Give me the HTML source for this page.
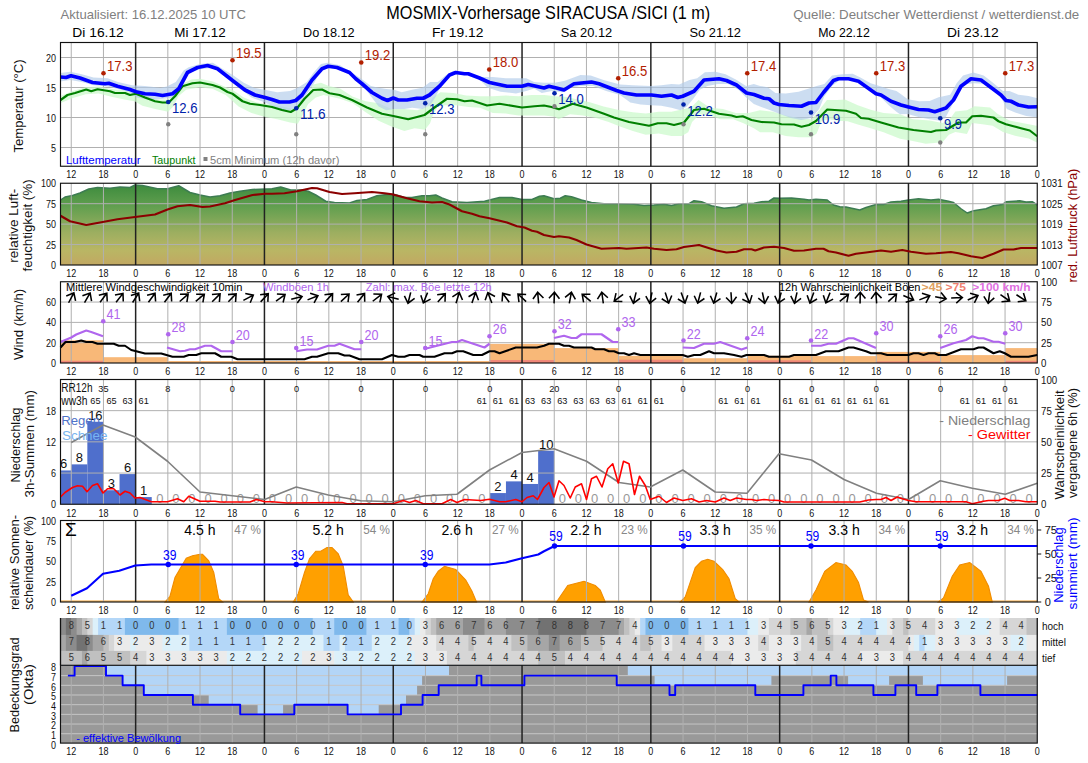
<!DOCTYPE html>
<html><head><meta charset="utf-8"><style>
html,body{margin:0;padding:0;background:#fff;width:1088px;height:763px;overflow:hidden}
svg{display:block;font-family:"Liberation Sans", sans-serif}
</style></head><body>
<svg width="1088" height="763" viewBox="0 0 1088 763">
<rect width="1088" height="763" fill="#fff"/>
<text x="60.50" y="19.25" font-size="13.2" fill="#808080" text-anchor="start" textLength="185.5" lengthAdjust="spacingAndGlyphs" >Aktualisiert: 16.12.2025 10 UTC</text>
<text x="386.25" y="19.25" font-size="17.5" fill="#000" text-anchor="start" textLength="324" lengthAdjust="spacingAndGlyphs" >MOSMIX-Vorhersage SIRACUSA /SICI (1 m)</text>
<text x="793.25" y="19.25" font-size="13.2" fill="#808080" text-anchor="start" textLength="286" lengthAdjust="spacingAndGlyphs" >Quelle: Deutscher Wetterdienst / wetterdienst.de</text>
<text x="98.07" y="37.40" font-size="12.8" fill="#000" text-anchor="middle" textLength="51.5" lengthAdjust="spacingAndGlyphs" >Di 16.12</text>
<text x="200.04" y="37.40" font-size="12.8" fill="#000" text-anchor="middle" textLength="51.5" lengthAdjust="spacingAndGlyphs" >Mi 17.12</text>
<text x="328.84" y="37.40" font-size="12.8" fill="#000" text-anchor="middle" textLength="51.5" lengthAdjust="spacingAndGlyphs" >Do 18.12</text>
<text x="457.65" y="37.40" font-size="12.8" fill="#000" text-anchor="middle" textLength="51.5" lengthAdjust="spacingAndGlyphs" >Fr 19.12</text>
<text x="586.45" y="37.40" font-size="12.8" fill="#000" text-anchor="middle" textLength="51.5" lengthAdjust="spacingAndGlyphs" >Sa 20.12</text>
<text x="715.25" y="37.40" font-size="12.8" fill="#000" text-anchor="middle" textLength="51.5" lengthAdjust="spacingAndGlyphs" >So 21.12</text>
<text x="844.06" y="37.40" font-size="12.8" fill="#000" text-anchor="middle" textLength="51.5" lengthAdjust="spacingAndGlyphs" >Mo 22.12</text>
<text x="972.86" y="37.40" font-size="12.8" fill="#000" text-anchor="middle" textLength="51.5" lengthAdjust="spacingAndGlyphs" >Di 23.12</text>
<line x1="60.50" y1="57.50" x2="1037.25" y2="57.50" stroke="#b0b0b0" stroke-width="1" />
<line x1="60.50" y1="87.50" x2="1037.25" y2="87.50" stroke="#b0b0b0" stroke-width="1" />
<line x1="60.50" y1="117.50" x2="1037.25" y2="117.50" stroke="#b0b0b0" stroke-width="1" />
<line x1="60.50" y1="147.50" x2="1037.25" y2="147.50" stroke="#b0b0b0" stroke-width="1" />
<line x1="71.24" y1="42.50" x2="71.24" y2="166.25" stroke="#b0b0b0" stroke-width="1" />
<line x1="103.44" y1="42.50" x2="103.44" y2="166.25" stroke="#b0b0b0" stroke-width="1" />
<line x1="167.84" y1="42.50" x2="167.84" y2="166.25" stroke="#b0b0b0" stroke-width="1" />
<line x1="200.04" y1="42.50" x2="200.04" y2="166.25" stroke="#b0b0b0" stroke-width="1" />
<line x1="232.24" y1="42.50" x2="232.24" y2="166.25" stroke="#b0b0b0" stroke-width="1" />
<line x1="296.64" y1="42.50" x2="296.64" y2="166.25" stroke="#b0b0b0" stroke-width="1" />
<line x1="328.84" y1="42.50" x2="328.84" y2="166.25" stroke="#b0b0b0" stroke-width="1" />
<line x1="361.05" y1="42.50" x2="361.05" y2="166.25" stroke="#b0b0b0" stroke-width="1" />
<line x1="425.45" y1="42.50" x2="425.45" y2="166.25" stroke="#b0b0b0" stroke-width="1" />
<line x1="457.65" y1="42.50" x2="457.65" y2="166.25" stroke="#b0b0b0" stroke-width="1" />
<line x1="489.85" y1="42.50" x2="489.85" y2="166.25" stroke="#b0b0b0" stroke-width="1" />
<line x1="554.25" y1="42.50" x2="554.25" y2="166.25" stroke="#b0b0b0" stroke-width="1" />
<line x1="586.45" y1="42.50" x2="586.45" y2="166.25" stroke="#b0b0b0" stroke-width="1" />
<line x1="618.65" y1="42.50" x2="618.65" y2="166.25" stroke="#b0b0b0" stroke-width="1" />
<line x1="683.05" y1="42.50" x2="683.05" y2="166.25" stroke="#b0b0b0" stroke-width="1" />
<line x1="715.25" y1="42.50" x2="715.25" y2="166.25" stroke="#b0b0b0" stroke-width="1" />
<line x1="747.46" y1="42.50" x2="747.46" y2="166.25" stroke="#b0b0b0" stroke-width="1" />
<line x1="811.86" y1="42.50" x2="811.86" y2="166.25" stroke="#b0b0b0" stroke-width="1" />
<line x1="844.06" y1="42.50" x2="844.06" y2="166.25" stroke="#b0b0b0" stroke-width="1" />
<line x1="876.26" y1="42.50" x2="876.26" y2="166.25" stroke="#b0b0b0" stroke-width="1" />
<line x1="940.66" y1="42.50" x2="940.66" y2="166.25" stroke="#b0b0b0" stroke-width="1" />
<line x1="972.86" y1="42.50" x2="972.86" y2="166.25" stroke="#b0b0b0" stroke-width="1" />
<line x1="1005.06" y1="42.50" x2="1005.06" y2="166.25" stroke="#b0b0b0" stroke-width="1" />
<line x1="135.64" y1="42.50" x2="135.64" y2="166.25" stroke="#222" stroke-width="1.5" />
<line x1="264.44" y1="42.50" x2="264.44" y2="166.25" stroke="#222" stroke-width="1.5" />
<line x1="393.25" y1="42.50" x2="393.25" y2="166.25" stroke="#222" stroke-width="1.5" />
<line x1="522.05" y1="42.50" x2="522.05" y2="166.25" stroke="#222" stroke-width="1.5" />
<line x1="650.85" y1="42.50" x2="650.85" y2="166.25" stroke="#222" stroke-width="1.5" />
<line x1="779.66" y1="42.50" x2="779.66" y2="166.25" stroke="#222" stroke-width="1.5" />
<line x1="908.46" y1="42.50" x2="908.46" y2="166.25" stroke="#222" stroke-width="1.5" />
<clipPath id="c1"><rect x="60.5" y="42.5" width="976.75" height="123.75"/></clipPath>
<g clip-path="url(#c1)">
<polygon points="60.00,96.18 72.87,91.04 85.74,87.18 98.61,86.53 111.48,89.11 124.35,90.39 134.65,92.32 147.52,96.18 157.81,99.40 168.11,99.40 175.83,93.61 183.55,83.31 191.27,79.45 200.03,78.81 212.87,81.38 223.17,85.89 233.46,90.39 243.76,97.47 256.63,102.62 269.50,104.55 282.37,106.48 292.66,109.05 300.39,106.48 306.82,96.18 313.26,84.60 320.98,82.67 328.70,85.89 340.03,88.46 352.87,96.83 365.74,101.33 378.61,103.26 391.48,109.05 404.35,109.05 417.22,110.34 427.52,106.48 432.66,97.47 440.39,92.32 453.26,92.97 466.13,95.54 480.03,96.18 492.87,96.18 505.74,95.54 518.61,96.18 531.48,94.90 544.35,94.90 554.65,96.18 564.94,96.83 577.81,99.40 590.68,102.62 603.55,106.48 620.03,110.34 632.87,112.27 645.74,113.56 658.61,111.63 671.48,111.63 684.35,109.05 692.07,106.48 698.51,100.05 710.09,107.77 722.96,109.05 735.83,112.92 748.70,112.92 760.03,110.34 772.87,111.63 785.74,115.49 798.61,118.06 811.48,119.35 819.20,110.34 826.92,100.05 837.22,100.05 844.94,99.40 857.81,105.19 870.68,109.70 883.55,112.92 900.03,114.20 912.87,119.20 929.60,120.49 942.47,123.06 948.91,120.49 955.34,111.48 966.92,110.19 974.65,106.33 990.09,107.62 997.81,114.05 1009.40,120.49 1022.27,123.06 1036.42,125.64 1040.28,125.89 1040.28,143.01 1036.42,142.37 1028.70,138.51 1015.83,135.93 1002.96,132.07 992.66,125.64 982.37,124.35 972.07,123.06 966.92,134.00 955.34,132.07 948.91,134.65 942.47,142.37 925.74,143.66 912.87,141.08 900.03,138.66 883.55,132.22 870.68,128.36 857.81,124.50 847.52,121.28 837.22,120.64 829.50,119.35 821.78,120.64 816.63,133.51 811.48,137.37 798.61,137.37 785.74,136.08 772.87,132.22 760.03,132.22 753.85,128.36 743.55,123.21 733.26,119.35 720.39,119.35 710.09,115.49 699.79,114.20 692.07,121.92 688.21,132.22 681.78,136.08 671.48,136.08 658.61,133.51 645.74,134.79 632.87,130.93 620.03,126.43 608.70,121.92 595.83,118.06 582.96,115.49 570.09,114.20 558.51,119.35 554.65,116.78 544.35,115.49 531.48,115.49 518.61,115.49 505.74,113.56 492.87,112.92 480.03,107.77 468.70,107.12 455.83,105.19 445.53,105.19 437.81,106.48 432.66,115.49 430.09,123.21 424.94,129.65 414.65,128.36 404.35,130.93 391.48,126.43 378.61,120.64 365.74,112.27 352.87,103.26 340.03,98.76 323.55,94.90 315.83,97.47 308.11,103.91 301.67,116.78 297.81,123.85 290.09,122.57 277.22,119.35 264.35,116.78 251.48,112.92 238.61,106.48 225.74,94.90 212.87,89.11 200.03,87.18 186.13,89.75 178.40,96.18 173.26,106.48 168.11,111.63 155.24,109.05 142.37,105.84 134.65,101.33 124.35,99.40 111.48,96.83 98.61,93.61 85.74,94.25 72.87,98.11 60.00,103.26" fill="#ccf9cc" stroke="none" stroke-width="0" fill-opacity="0.75"/>
<polygon points="60.00,73.02 70.30,71.73 81.88,74.31 93.46,77.52 107.62,78.17 117.92,82.03 132.07,85.24 144.94,85.89 160.39,87.82 166.82,86.53 175.83,82.03 183.55,70.44 188.70,67.23 200.03,64.01 212.87,62.72 223.17,69.16 233.46,75.59 243.76,82.67 254.05,87.82 264.35,89.75 277.22,92.32 290.09,91.04 297.81,87.82 306.82,82.03 313.26,73.02 320.98,64.01 327.41,62.72 340.03,65.30 350.30,71.73 360.59,78.17 370.89,85.89 378.61,87.82 386.33,89.11 394.05,89.75 401.78,92.32 412.07,89.75 422.37,87.82 430.09,82.03 437.81,82.03 445.53,75.59 453.26,71.09 466.13,72.37 480.03,76.88 492.87,76.88 505.74,78.17 518.61,78.17 526.33,78.17 534.05,82.03 544.35,82.67 554.65,82.67 564.94,80.74 580.39,74.95 590.68,75.59 603.55,80.10 620.03,84.60 632.87,85.24 650.89,85.89 661.18,85.24 671.48,83.96 679.20,84.60 689.50,80.10 697.22,78.17 704.94,72.37 715.24,71.73 725.53,74.31 735.83,79.45 746.13,85.89 753.85,83.96 760.03,85.89 767.72,87.18 775.44,92.97 785.74,93.61 798.61,91.68 808.91,88.46 816.63,85.89 824.35,83.96 832.07,75.59 842.37,74.31 852.66,73.66 860.39,77.52 870.68,83.31 880.98,86.53 888.70,89.11 896.42,91.04 900.03,93.61 907.72,99.25 919.31,101.18 929.60,100.93 938.61,97.32 950.19,94.75 956.63,83.17 963.06,75.44 973.36,72.61 983.66,75.44 992.66,82.52 1002.96,90.89 1009.40,90.89 1018.40,94.75 1028.70,96.04 1036.42,97.97 1040.28,98.35 1040.28,117.53 1036.42,117.27 1026.13,115.98 1015.83,112.77 1006.82,108.91 1001.67,98.61 992.66,89.60 983.66,83.81 973.36,83.17 964.35,84.45 957.92,92.18 951.48,106.33 945.05,118.56 938.61,120.49 929.60,119.20 919.31,117.27 907.72,114.05 900.03,114.20 896.42,111.63 888.70,105.19 880.98,97.47 873.26,90.39 865.53,84.60 857.81,80.10 850.09,78.81 839.79,80.10 832.07,85.89 824.35,96.18 819.20,109.05 811.48,118.06 801.18,119.99 790.89,118.06 780.59,114.20 770.30,110.34 760.03,106.48 753.85,103.91 746.13,97.47 738.40,89.75 728.11,83.96 717.81,83.96 707.52,85.89 699.79,89.75 693.36,98.76 686.92,106.48 680.49,110.34 671.48,107.77 661.18,105.84 650.89,105.19 640.59,104.55 630.30,102.62 620.03,94.90 606.13,91.04 593.26,85.89 580.39,85.89 570.09,87.82 562.37,92.32 552.07,91.04 541.78,92.97 534.05,88.46 526.33,91.04 516.04,93.61 500.59,91.68 487.72,87.82 480.03,80.10 468.70,74.95 455.83,74.31 448.11,77.52 440.39,87.18 435.24,97.47 430.09,105.19 422.37,109.05 412.07,107.77 404.35,109.05 394.05,109.05 386.33,110.34 378.61,106.48 370.89,96.18 360.59,82.67 350.30,74.95 340.03,69.16 327.41,67.87 320.98,70.44 313.26,84.60 305.53,96.18 297.81,106.48 290.09,110.34 279.79,110.34 272.07,105.84 261.78,101.33 251.48,97.47 241.18,89.75 230.89,80.74 220.59,71.73 212.87,67.87 200.03,69.16 188.70,73.02 183.55,80.10 178.40,89.75 173.26,97.47 162.96,98.76 150.09,100.05 137.22,97.47 129.50,92.32 117.92,89.11 107.62,86.53 93.46,85.24 81.88,82.03 70.30,80.10 60.00,81.38" fill="#b0cbe9" stroke="none" stroke-width="0" fill-opacity="0.65"/>
<polyline points="60.50,100.00 67.50,95.00 75.00,93.00 86.25,89.50 91.25,91.25 97.50,89.25 110.00,91.25 115.00,93.00 125.00,93.00 130.00,95.00 136.00,93.75 145.00,97.50 155.00,101.25 162.50,102.50 168.75,102.50 175.00,96.25 182.50,86.25 192.50,83.25 200.00,82.50 212.50,85.00 220.00,87.50 227.50,92.00 232.50,93.75 242.50,101.25 250.00,103.75 260.00,105.00 272.00,107.00 282.00,110.00 290.75,112.00 297.00,108.25 304.50,98.75 313.25,90.00 322.00,89.50 329.50,93.25 339.50,95.00 352.00,100.00 367.00,107.50 382.00,113.75 394.50,116.25 408.25,119.25 417.00,117.00 424.50,115.00 434.50,107.50 447.00,98.75 457.00,99.25 464.50,101.25 472.00,100.50 487.00,105.50 499.50,103.75 522.00,107.50 534.50,106.25 544.00,105.50 551.50,107.00 559.00,109.25 572.75,103.75 586.50,107.50 604.00,113.75 614.00,117.50 629.00,122.00 649.00,125.75 657.75,123.25 666.50,123.25 674.00,125.00 684.00,122.50 694.00,110.00 704.00,108.75 719.00,113.75 731.50,115.50 736.50,117.00 742.75,116.25 751.50,120.00 761.50,122.00 774.00,122.50 781.50,124.25 794.00,124.50 801.50,126.75 809.00,125.00 816.00,121.00 827.25,109.50 846.00,110.75 856.00,113.75 861.00,118.00 868.50,118.75 881.00,122.50 898.50,127.50 913.50,130.00 931.00,132.00 936.00,130.50 946.00,130.00 958.50,122.50 966.00,122.50 972.25,116.25 981.00,115.75 993.50,117.50 998.50,121.25 1006.00,124.25 1013.50,126.25 1021.00,128.25 1029.75,130.50 1037.25,136.25" fill="none" stroke="#008000" stroke-width="2.2" stroke-linejoin="round" stroke-linecap="butt" />
<polyline points="60.50,77.00 66.00,77.50 71.00,75.75 80.00,78.00 92.50,82.50 105.00,83.75 108.75,83.25 117.50,86.25 130.00,89.50 136.00,91.75 145.00,93.75 155.00,94.25 162.50,95.50 172.50,93.75 178.75,88.75 187.50,72.50 197.50,67.50 207.50,65.50 217.50,68.75 232.50,80.50 245.00,90.00 255.00,95.00 265.00,97.50 272.00,99.50 279.50,102.00 289.50,102.00 295.75,100.50 302.00,95.00 312.00,80.00 322.00,68.75 328.25,66.25 337.00,67.50 349.50,72.50 355.75,78.75 362.00,83.75 372.00,92.50 382.00,98.25 387.50,100.50 393.25,98.00 398.25,100.00 407.00,100.00 417.00,98.25 423.25,98.25 429.50,95.00 439.50,86.25 449.50,75.00 455.75,72.50 464.50,73.75 468.25,73.75 479.50,78.00 489.50,82.50 507.00,86.25 522.00,86.25 528.25,84.50 544.00,88.00 549.00,86.25 556.50,88.00 564.00,90.00 574.00,83.75 591.50,82.00 599.00,83.75 616.50,90.50 624.00,93.00 636.50,95.00 651.50,95.00 661.50,96.25 671.50,95.00 677.75,97.50 682.75,96.25 694.00,91.25 704.00,80.00 719.00,78.75 726.50,80.50 736.50,85.00 746.50,93.00 754.00,94.50 764.00,98.25 769.00,98.75 774.00,103.00 779.00,104.50 789.00,105.50 801.50,106.25 809.00,103.00 816.00,102.50 823.50,92.50 833.50,80.50 838.50,78.75 848.50,78.75 858.50,81.25 876.00,93.75 881.00,95.00 891.00,101.25 901.00,105.00 908.50,107.00 918.50,109.50 928.50,110.00 934.75,111.75 946.00,108.00 953.50,100.00 961.00,86.25 971.00,78.75 981.00,80.00 991.00,87.50 1001.00,95.00 1006.00,100.50 1011.00,101.25 1018.50,105.00 1028.50,107.00 1037.25,106.75" fill="none" stroke="#0000ff" stroke-width="3.7" stroke-linejoin="round" stroke-linecap="butt" />
</g>
<circle cx="103.5" cy="73.25" r="2.3" fill="#b22000"/>
<text x="107.00" y="70.75" font-size="14" fill="#b22000" text-anchor="start" textLength="25.5" lengthAdjust="spacingAndGlyphs" >17.3</text>
<circle cx="232.5" cy="60.25" r="2.3" fill="#b22000"/>
<text x="236.00" y="57.75" font-size="14" fill="#b22000" text-anchor="start" textLength="25.5" lengthAdjust="spacingAndGlyphs" >19.5</text>
<circle cx="361.25" cy="62.5" r="2.3" fill="#b22000"/>
<text x="364.75" y="60.00" font-size="14" fill="#b22000" text-anchor="start" textLength="25.5" lengthAdjust="spacingAndGlyphs" >19.2</text>
<circle cx="489.25" cy="69.5" r="2.3" fill="#b22000"/>
<text x="492.75" y="67.00" font-size="14" fill="#b22000" text-anchor="start" textLength="25.5" lengthAdjust="spacingAndGlyphs" >18.0</text>
<circle cx="618.25" cy="78.25" r="2.3" fill="#b22000"/>
<text x="621.75" y="75.75" font-size="14" fill="#b22000" text-anchor="start" textLength="25.5" lengthAdjust="spacingAndGlyphs" >16.5</text>
<circle cx="747.25" cy="73.25" r="2.3" fill="#b22000"/>
<text x="750.75" y="70.75" font-size="14" fill="#b22000" text-anchor="start" textLength="25.5" lengthAdjust="spacingAndGlyphs" >17.4</text>
<circle cx="876.25" cy="73.25" r="2.3" fill="#b22000"/>
<text x="879.75" y="70.75" font-size="14" fill="#b22000" text-anchor="start" textLength="25.5" lengthAdjust="spacingAndGlyphs" >17.3</text>
<circle cx="1005.25" cy="73.25" r="2.3" fill="#b22000"/>
<text x="1008.75" y="70.75" font-size="14" fill="#b22000" text-anchor="start" textLength="25.5" lengthAdjust="spacingAndGlyphs" >17.3</text>
<circle cx="168.25" cy="102" r="2.3" fill="#0022aa"/>
<text x="172.00" y="113.00" font-size="14" fill="#0022aa" text-anchor="start" textLength="25.5" lengthAdjust="spacingAndGlyphs" >12.6</text>
<circle cx="296.25" cy="108.25" r="2.3" fill="#0022aa"/>
<text x="300.00" y="119.25" font-size="14" fill="#0022aa" text-anchor="start" textLength="25.5" lengthAdjust="spacingAndGlyphs" >11.6</text>
<circle cx="425.25" cy="103.25" r="2.3" fill="#0022aa"/>
<text x="429.00" y="114.25" font-size="14" fill="#0022aa" text-anchor="start" textLength="25.5" lengthAdjust="spacingAndGlyphs" >12.3</text>
<circle cx="554.5" cy="93.25" r="2.3" fill="#0022aa"/>
<text x="558.25" y="104.25" font-size="14" fill="#0022aa" text-anchor="start" textLength="25.5" lengthAdjust="spacingAndGlyphs" >14.0</text>
<circle cx="683.5" cy="104.5" r="2.3" fill="#0022aa"/>
<text x="687.25" y="115.50" font-size="14" fill="#0022aa" text-anchor="start" textLength="25.5" lengthAdjust="spacingAndGlyphs" >12.2</text>
<circle cx="811" cy="112.5" r="2.3" fill="#0022aa"/>
<text x="814.75" y="123.50" font-size="14" fill="#0022aa" text-anchor="start" textLength="25.5" lengthAdjust="spacingAndGlyphs" >10.9</text>
<circle cx="940.25" cy="118.25" r="2.3" fill="#0022aa"/>
<text x="944.00" y="129.25" font-size="14" fill="#0022aa" text-anchor="start" textLength="18" lengthAdjust="spacingAndGlyphs" >9.9</text>
<circle cx="168.25" cy="124.25" r="2.2" fill="#808080"/>
<circle cx="296.25" cy="134.25" r="2.2" fill="#808080"/>
<circle cx="425.25" cy="134.25" r="2.2" fill="#808080"/>
<circle cx="554.5" cy="106.25" r="2.2" fill="#808080"/>
<circle cx="683.5" cy="124.25" r="2.2" fill="#808080"/>
<circle cx="811" cy="134.25" r="2.2" fill="#808080"/>
<circle cx="940.25" cy="142.5" r="2.2" fill="#808080"/>
<rect x="60.5" y="42.5" width="976.75" height="123.75" fill="none" stroke="#111" stroke-width="1.15"/>
<text x="66.00" y="163.50" font-size="11.5" fill="#0000ff" text-anchor="start" textLength="74.5" lengthAdjust="spacingAndGlyphs" >Lufttemperatur</text>
<text x="152.00" y="163.50" font-size="11.5" fill="#008000" text-anchor="start" textLength="43.5" lengthAdjust="spacingAndGlyphs" >Taupunkt</text>
<rect x="203.5" y="157" width="4" height="4" fill="#808080"/>
<text x="210.00" y="163.50" font-size="11.5" fill="#808080" text-anchor="start" textLength="129.5" lengthAdjust="spacingAndGlyphs" >5cm Minimum (12h davor)</text>
<text x="56.00" y="61.50" font-size="11" fill="#111" text-anchor="end" textLength="10.0" lengthAdjust="spacingAndGlyphs" >20</text>
<text x="56.00" y="91.50" font-size="11" fill="#111" text-anchor="end" textLength="10.0" lengthAdjust="spacingAndGlyphs" >15</text>
<text x="56.00" y="121.50" font-size="11" fill="#111" text-anchor="end" textLength="10.0" lengthAdjust="spacingAndGlyphs" >10</text>
<text x="56.00" y="151.50" font-size="11" fill="#111" text-anchor="end" textLength="5.0" lengthAdjust="spacingAndGlyphs" >5</text>
<text x="71.24" y="178.00" font-size="11" fill="#111" text-anchor="middle" textLength="10.0" lengthAdjust="spacingAndGlyphs" >12</text>
<text x="103.44" y="178.00" font-size="11" fill="#111" text-anchor="middle" textLength="10.0" lengthAdjust="spacingAndGlyphs" >18</text>
<text x="135.64" y="178.00" font-size="11" fill="#111" text-anchor="middle" textLength="5.0" lengthAdjust="spacingAndGlyphs" >0</text>
<text x="167.84" y="178.00" font-size="11" fill="#111" text-anchor="middle" textLength="5.0" lengthAdjust="spacingAndGlyphs" >6</text>
<text x="200.04" y="178.00" font-size="11" fill="#111" text-anchor="middle" textLength="10.0" lengthAdjust="spacingAndGlyphs" >12</text>
<text x="232.24" y="178.00" font-size="11" fill="#111" text-anchor="middle" textLength="10.0" lengthAdjust="spacingAndGlyphs" >18</text>
<text x="264.44" y="178.00" font-size="11" fill="#111" text-anchor="middle" textLength="5.0" lengthAdjust="spacingAndGlyphs" >0</text>
<text x="296.64" y="178.00" font-size="11" fill="#111" text-anchor="middle" textLength="5.0" lengthAdjust="spacingAndGlyphs" >6</text>
<text x="328.84" y="178.00" font-size="11" fill="#111" text-anchor="middle" textLength="10.0" lengthAdjust="spacingAndGlyphs" >12</text>
<text x="361.05" y="178.00" font-size="11" fill="#111" text-anchor="middle" textLength="10.0" lengthAdjust="spacingAndGlyphs" >18</text>
<text x="393.25" y="178.00" font-size="11" fill="#111" text-anchor="middle" textLength="5.0" lengthAdjust="spacingAndGlyphs" >0</text>
<text x="425.45" y="178.00" font-size="11" fill="#111" text-anchor="middle" textLength="5.0" lengthAdjust="spacingAndGlyphs" >6</text>
<text x="457.65" y="178.00" font-size="11" fill="#111" text-anchor="middle" textLength="10.0" lengthAdjust="spacingAndGlyphs" >12</text>
<text x="489.85" y="178.00" font-size="11" fill="#111" text-anchor="middle" textLength="10.0" lengthAdjust="spacingAndGlyphs" >18</text>
<text x="522.05" y="178.00" font-size="11" fill="#111" text-anchor="middle" textLength="5.0" lengthAdjust="spacingAndGlyphs" >0</text>
<text x="554.25" y="178.00" font-size="11" fill="#111" text-anchor="middle" textLength="5.0" lengthAdjust="spacingAndGlyphs" >6</text>
<text x="586.45" y="178.00" font-size="11" fill="#111" text-anchor="middle" textLength="10.0" lengthAdjust="spacingAndGlyphs" >12</text>
<text x="618.65" y="178.00" font-size="11" fill="#111" text-anchor="middle" textLength="10.0" lengthAdjust="spacingAndGlyphs" >18</text>
<text x="650.85" y="178.00" font-size="11" fill="#111" text-anchor="middle" textLength="5.0" lengthAdjust="spacingAndGlyphs" >0</text>
<text x="683.05" y="178.00" font-size="11" fill="#111" text-anchor="middle" textLength="5.0" lengthAdjust="spacingAndGlyphs" >6</text>
<text x="715.25" y="178.00" font-size="11" fill="#111" text-anchor="middle" textLength="10.0" lengthAdjust="spacingAndGlyphs" >12</text>
<text x="747.46" y="178.00" font-size="11" fill="#111" text-anchor="middle" textLength="10.0" lengthAdjust="spacingAndGlyphs" >18</text>
<text x="779.66" y="178.00" font-size="11" fill="#111" text-anchor="middle" textLength="5.0" lengthAdjust="spacingAndGlyphs" >0</text>
<text x="811.86" y="178.00" font-size="11" fill="#111" text-anchor="middle" textLength="5.0" lengthAdjust="spacingAndGlyphs" >6</text>
<text x="844.06" y="178.00" font-size="11" fill="#111" text-anchor="middle" textLength="10.0" lengthAdjust="spacingAndGlyphs" >12</text>
<text x="876.26" y="178.00" font-size="11" fill="#111" text-anchor="middle" textLength="10.0" lengthAdjust="spacingAndGlyphs" >18</text>
<text x="908.46" y="178.00" font-size="11" fill="#111" text-anchor="middle" textLength="5.0" lengthAdjust="spacingAndGlyphs" >0</text>
<text x="940.66" y="178.00" font-size="11" fill="#111" text-anchor="middle" textLength="5.0" lengthAdjust="spacingAndGlyphs" >6</text>
<text x="972.86" y="178.00" font-size="11" fill="#111" text-anchor="middle" textLength="10.0" lengthAdjust="spacingAndGlyphs" >12</text>
<text x="1005.06" y="178.00" font-size="11" fill="#111" text-anchor="middle" textLength="10.0" lengthAdjust="spacingAndGlyphs" >18</text>
<text x="1037.26" y="178.00" font-size="11" fill="#111" text-anchor="middle" textLength="5.0" lengthAdjust="spacingAndGlyphs" >0</text>
<linearGradient id="hg" gradientUnits="userSpaceOnUse" x1="0" y1="183.25" x2="0" y2="265.0"><stop offset="0" stop-color="#3a8a3c"/><stop offset="0.3" stop-color="#64a050"/><stop offset="0.6" stop-color="#9cae60"/><stop offset="0.82" stop-color="#b9b664"/><stop offset="1" stop-color="#c2a862"/></linearGradient>
<polygon points="60.50,200.00 65.00,197.00 72.50,195.50 80.00,193.00 88.75,189.00 97.50,187.50 110.00,188.25 120.00,187.00 130.00,187.50 135.00,185.00 142.50,185.50 157.50,188.75 167.50,188.75 178.75,185.75 190.00,192.50 200.00,195.00 210.00,197.00 220.00,195.75 230.00,193.00 240.00,191.25 252.50,189.50 272.00,188.75 280.75,187.00 290.75,190.00 302.00,190.00 308.25,191.25 315.75,195.00 325.75,201.25 334.50,202.50 349.50,203.00 357.00,200.50 367.00,199.50 377.00,195.75 387.00,194.50 394.50,194.50 404.50,197.50 412.00,197.50 422.00,195.75 429.50,195.75 435.75,195.00 442.00,198.00 452.00,201.75 467.00,202.50 484.50,201.25 499.50,197.50 512.00,197.50 522.00,199.50 532.00,199.50 539.50,196.25 544.00,195.75 554.00,198.75 560.25,198.25 565.25,195.75 571.50,196.75 581.50,200.00 591.50,202.50 604.00,203.75 619.00,203.75 634.00,204.25 644.00,205.50 654.00,205.00 664.00,204.25 671.50,205.50 679.00,203.75 689.00,203.75 694.00,200.75 701.50,201.75 711.50,205.75 724.00,208.25 736.50,207.00 744.00,203.75 754.00,203.25 761.50,201.75 769.00,201.25 774.00,198.00 779.00,198.25 791.50,198.00 804.00,199.25 809.00,200.00 816.00,199.25 827.25,200.00 833.50,205.00 839.75,206.75 846.00,207.00 859.75,210.00 866.00,207.50 876.00,204.50 883.50,204.50 891.00,202.00 901.00,201.25 908.50,200.00 918.50,198.75 931.00,200.00 938.50,199.25 948.50,201.25 953.50,202.50 961.00,208.75 967.25,213.00 973.50,210.75 986.00,208.75 993.50,205.75 1002.25,204.50 1006.00,201.75 1019.75,200.75 1026.00,202.00 1032.25,201.75 1037.25,205.00 1037.25,265.00 60.50,265.00" fill="url(#hg)" stroke="none" stroke-width="0" />
<polyline points="60.50,200.00 65.00,197.00 72.50,195.50 80.00,193.00 88.75,189.00 97.50,187.50 110.00,188.25 120.00,187.00 130.00,187.50 135.00,185.00 142.50,185.50 157.50,188.75 167.50,188.75 178.75,185.75 190.00,192.50 200.00,195.00 210.00,197.00 220.00,195.75 230.00,193.00 240.00,191.25 252.50,189.50 272.00,188.75 280.75,187.00 290.75,190.00 302.00,190.00 308.25,191.25 315.75,195.00 325.75,201.25 334.50,202.50 349.50,203.00 357.00,200.50 367.00,199.50 377.00,195.75 387.00,194.50 394.50,194.50 404.50,197.50 412.00,197.50 422.00,195.75 429.50,195.75 435.75,195.00 442.00,198.00 452.00,201.75 467.00,202.50 484.50,201.25 499.50,197.50 512.00,197.50 522.00,199.50 532.00,199.50 539.50,196.25 544.00,195.75 554.00,198.75 560.25,198.25 565.25,195.75 571.50,196.75 581.50,200.00 591.50,202.50 604.00,203.75 619.00,203.75 634.00,204.25 644.00,205.50 654.00,205.00 664.00,204.25 671.50,205.50 679.00,203.75 689.00,203.75 694.00,200.75 701.50,201.75 711.50,205.75 724.00,208.25 736.50,207.00 744.00,203.75 754.00,203.25 761.50,201.75 769.00,201.25 774.00,198.00 779.00,198.25 791.50,198.00 804.00,199.25 809.00,200.00 816.00,199.25 827.25,200.00 833.50,205.00 839.75,206.75 846.00,207.00 859.75,210.00 866.00,207.50 876.00,204.50 883.50,204.50 891.00,202.00 901.00,201.25 908.50,200.00 918.50,198.75 931.00,200.00 938.50,199.25 948.50,201.25 953.50,202.50 961.00,208.75 967.25,213.00 973.50,210.75 986.00,208.75 993.50,205.75 1002.25,204.50 1006.00,201.75 1019.75,200.75 1026.00,202.00 1032.25,201.75 1037.25,205.00" fill="none" stroke="#3d7c52" stroke-width="1.5" stroke-linejoin="round" stroke-linecap="butt" />
<line x1="60.50" y1="244.56" x2="1037.25" y2="244.56" stroke="#b0b0b0" stroke-width="1" />
<line x1="60.50" y1="224.12" x2="1037.25" y2="224.12" stroke="#b0b0b0" stroke-width="1" />
<line x1="60.50" y1="203.69" x2="1037.25" y2="203.69" stroke="#b0b0b0" stroke-width="1" />
<line x1="71.24" y1="183.25" x2="71.24" y2="265.00" stroke="#b0b0b0" stroke-width="1" />
<line x1="103.44" y1="183.25" x2="103.44" y2="265.00" stroke="#b0b0b0" stroke-width="1" />
<line x1="167.84" y1="183.25" x2="167.84" y2="265.00" stroke="#b0b0b0" stroke-width="1" />
<line x1="200.04" y1="183.25" x2="200.04" y2="265.00" stroke="#b0b0b0" stroke-width="1" />
<line x1="232.24" y1="183.25" x2="232.24" y2="265.00" stroke="#b0b0b0" stroke-width="1" />
<line x1="296.64" y1="183.25" x2="296.64" y2="265.00" stroke="#b0b0b0" stroke-width="1" />
<line x1="328.84" y1="183.25" x2="328.84" y2="265.00" stroke="#b0b0b0" stroke-width="1" />
<line x1="361.05" y1="183.25" x2="361.05" y2="265.00" stroke="#b0b0b0" stroke-width="1" />
<line x1="425.45" y1="183.25" x2="425.45" y2="265.00" stroke="#b0b0b0" stroke-width="1" />
<line x1="457.65" y1="183.25" x2="457.65" y2="265.00" stroke="#b0b0b0" stroke-width="1" />
<line x1="489.85" y1="183.25" x2="489.85" y2="265.00" stroke="#b0b0b0" stroke-width="1" />
<line x1="554.25" y1="183.25" x2="554.25" y2="265.00" stroke="#b0b0b0" stroke-width="1" />
<line x1="586.45" y1="183.25" x2="586.45" y2="265.00" stroke="#b0b0b0" stroke-width="1" />
<line x1="618.65" y1="183.25" x2="618.65" y2="265.00" stroke="#b0b0b0" stroke-width="1" />
<line x1="683.05" y1="183.25" x2="683.05" y2="265.00" stroke="#b0b0b0" stroke-width="1" />
<line x1="715.25" y1="183.25" x2="715.25" y2="265.00" stroke="#b0b0b0" stroke-width="1" />
<line x1="747.46" y1="183.25" x2="747.46" y2="265.00" stroke="#b0b0b0" stroke-width="1" />
<line x1="811.86" y1="183.25" x2="811.86" y2="265.00" stroke="#b0b0b0" stroke-width="1" />
<line x1="844.06" y1="183.25" x2="844.06" y2="265.00" stroke="#b0b0b0" stroke-width="1" />
<line x1="876.26" y1="183.25" x2="876.26" y2="265.00" stroke="#b0b0b0" stroke-width="1" />
<line x1="940.66" y1="183.25" x2="940.66" y2="265.00" stroke="#b0b0b0" stroke-width="1" />
<line x1="972.86" y1="183.25" x2="972.86" y2="265.00" stroke="#b0b0b0" stroke-width="1" />
<line x1="1005.06" y1="183.25" x2="1005.06" y2="265.00" stroke="#b0b0b0" stroke-width="1" />
<line x1="135.64" y1="183.25" x2="135.64" y2="265.00" stroke="#222" stroke-width="1.5" />
<line x1="264.44" y1="183.25" x2="264.44" y2="265.00" stroke="#222" stroke-width="1.5" />
<line x1="393.25" y1="183.25" x2="393.25" y2="265.00" stroke="#222" stroke-width="1.5" />
<line x1="522.05" y1="183.25" x2="522.05" y2="265.00" stroke="#222" stroke-width="1.5" />
<line x1="650.85" y1="183.25" x2="650.85" y2="265.00" stroke="#222" stroke-width="1.5" />
<line x1="779.66" y1="183.25" x2="779.66" y2="265.00" stroke="#222" stroke-width="1.5" />
<line x1="908.46" y1="183.25" x2="908.46" y2="265.00" stroke="#222" stroke-width="1.5" />
<polyline points="60.50,215.75 70.00,221.25 86.25,225.00 100.00,222.50 117.50,219.25 135.00,217.00 155.00,214.50 167.50,209.50 177.50,206.25 190.00,205.00 202.50,207.00 210.00,206.50 225.00,203.25 235.00,200.00 252.50,195.00 265.00,193.75 272.00,193.75 284.50,193.25 297.00,191.25 312.00,188.00 317.00,188.25 329.50,192.00 342.00,194.00 354.50,193.25 372.00,192.00 384.50,193.25 392.00,194.25 407.00,198.25 419.50,201.25 432.00,202.50 442.00,202.00 449.50,204.50 462.00,211.25 472.00,213.75 479.50,216.25 489.50,218.25 507.00,222.50 517.00,226.25 524.50,227.50 532.00,230.75 537.00,231.75 544.00,235.00 554.00,237.00 559.00,236.25 569.00,237.50 576.50,240.00 586.50,244.50 601.50,248.75 619.00,248.00 626.50,248.75 646.50,247.50 654.00,248.75 666.50,250.00 676.50,249.25 684.00,247.00 699.00,245.00 716.50,250.50 726.50,252.50 736.50,251.75 744.00,249.25 751.50,249.25 755.25,250.50 764.00,247.50 774.00,246.75 784.00,248.00 794.00,250.75 804.00,250.50 816.00,248.75 823.50,248.75 828.50,251.25 836.00,252.50 848.50,255.75 856.00,253.75 866.00,252.50 881.00,250.50 891.00,251.75 902.25,250.00 911.00,251.75 926.00,253.75 936.00,253.25 951.00,252.00 958.50,253.25 971.00,256.25 982.25,258.00 993.50,253.75 1003.50,249.50 1013.50,249.50 1021.00,248.00 1037.25,248.00" fill="none" stroke="#8b0000" stroke-width="2.2" stroke-linejoin="round" stroke-linecap="butt" />
<rect x="60.5" y="183.25" width="976.75" height="81.75" fill="none" stroke="#111" stroke-width="1.15"/>
<text x="56.00" y="187.25" font-size="11" fill="#111" text-anchor="end" textLength="15.0" lengthAdjust="spacingAndGlyphs" >100</text>
<text x="56.00" y="207.69" font-size="11" fill="#111" text-anchor="end" textLength="10.0" lengthAdjust="spacingAndGlyphs" >75</text>
<text x="56.00" y="228.12" font-size="11" fill="#111" text-anchor="end" textLength="10.0" lengthAdjust="spacingAndGlyphs" >50</text>
<text x="56.00" y="248.56" font-size="11" fill="#111" text-anchor="end" textLength="10.0" lengthAdjust="spacingAndGlyphs" >25</text>
<text x="56.00" y="269.00" font-size="11" fill="#111" text-anchor="end" textLength="5.0" lengthAdjust="spacingAndGlyphs" >0</text>
<text x="1041.00" y="187.25" font-size="11" fill="#111" text-anchor="start" textLength="21.6" lengthAdjust="spacingAndGlyphs" >1031</text>
<text x="1041.00" y="207.69" font-size="11" fill="#111" text-anchor="start" textLength="21.6" lengthAdjust="spacingAndGlyphs" >1025</text>
<text x="1041.00" y="228.12" font-size="11" fill="#111" text-anchor="start" textLength="21.6" lengthAdjust="spacingAndGlyphs" >1019</text>
<text x="1041.00" y="248.56" font-size="11" fill="#111" text-anchor="start" textLength="21.6" lengthAdjust="spacingAndGlyphs" >1013</text>
<text x="1041.00" y="269.00" font-size="11" fill="#111" text-anchor="start" textLength="21.6" lengthAdjust="spacingAndGlyphs" >1007</text>
<text x="71.24" y="277.00" font-size="11" fill="#111" text-anchor="middle" textLength="10.0" lengthAdjust="spacingAndGlyphs" >12</text>
<text x="103.44" y="277.00" font-size="11" fill="#111" text-anchor="middle" textLength="10.0" lengthAdjust="spacingAndGlyphs" >18</text>
<text x="135.64" y="277.00" font-size="11" fill="#111" text-anchor="middle" textLength="5.0" lengthAdjust="spacingAndGlyphs" >0</text>
<text x="167.84" y="277.00" font-size="11" fill="#111" text-anchor="middle" textLength="5.0" lengthAdjust="spacingAndGlyphs" >6</text>
<text x="200.04" y="277.00" font-size="11" fill="#111" text-anchor="middle" textLength="10.0" lengthAdjust="spacingAndGlyphs" >12</text>
<text x="232.24" y="277.00" font-size="11" fill="#111" text-anchor="middle" textLength="10.0" lengthAdjust="spacingAndGlyphs" >18</text>
<text x="264.44" y="277.00" font-size="11" fill="#111" text-anchor="middle" textLength="5.0" lengthAdjust="spacingAndGlyphs" >0</text>
<text x="296.64" y="277.00" font-size="11" fill="#111" text-anchor="middle" textLength="5.0" lengthAdjust="spacingAndGlyphs" >6</text>
<text x="328.84" y="277.00" font-size="11" fill="#111" text-anchor="middle" textLength="10.0" lengthAdjust="spacingAndGlyphs" >12</text>
<text x="361.05" y="277.00" font-size="11" fill="#111" text-anchor="middle" textLength="10.0" lengthAdjust="spacingAndGlyphs" >18</text>
<text x="393.25" y="277.00" font-size="11" fill="#111" text-anchor="middle" textLength="5.0" lengthAdjust="spacingAndGlyphs" >0</text>
<text x="425.45" y="277.00" font-size="11" fill="#111" text-anchor="middle" textLength="5.0" lengthAdjust="spacingAndGlyphs" >6</text>
<text x="457.65" y="277.00" font-size="11" fill="#111" text-anchor="middle" textLength="10.0" lengthAdjust="spacingAndGlyphs" >12</text>
<text x="489.85" y="277.00" font-size="11" fill="#111" text-anchor="middle" textLength="10.0" lengthAdjust="spacingAndGlyphs" >18</text>
<text x="522.05" y="277.00" font-size="11" fill="#111" text-anchor="middle" textLength="5.0" lengthAdjust="spacingAndGlyphs" >0</text>
<text x="554.25" y="277.00" font-size="11" fill="#111" text-anchor="middle" textLength="5.0" lengthAdjust="spacingAndGlyphs" >6</text>
<text x="586.45" y="277.00" font-size="11" fill="#111" text-anchor="middle" textLength="10.0" lengthAdjust="spacingAndGlyphs" >12</text>
<text x="618.65" y="277.00" font-size="11" fill="#111" text-anchor="middle" textLength="10.0" lengthAdjust="spacingAndGlyphs" >18</text>
<text x="650.85" y="277.00" font-size="11" fill="#111" text-anchor="middle" textLength="5.0" lengthAdjust="spacingAndGlyphs" >0</text>
<text x="683.05" y="277.00" font-size="11" fill="#111" text-anchor="middle" textLength="5.0" lengthAdjust="spacingAndGlyphs" >6</text>
<text x="715.25" y="277.00" font-size="11" fill="#111" text-anchor="middle" textLength="10.0" lengthAdjust="spacingAndGlyphs" >12</text>
<text x="747.46" y="277.00" font-size="11" fill="#111" text-anchor="middle" textLength="10.0" lengthAdjust="spacingAndGlyphs" >18</text>
<text x="779.66" y="277.00" font-size="11" fill="#111" text-anchor="middle" textLength="5.0" lengthAdjust="spacingAndGlyphs" >0</text>
<text x="811.86" y="277.00" font-size="11" fill="#111" text-anchor="middle" textLength="5.0" lengthAdjust="spacingAndGlyphs" >6</text>
<text x="844.06" y="277.00" font-size="11" fill="#111" text-anchor="middle" textLength="10.0" lengthAdjust="spacingAndGlyphs" >12</text>
<text x="876.26" y="277.00" font-size="11" fill="#111" text-anchor="middle" textLength="10.0" lengthAdjust="spacingAndGlyphs" >18</text>
<text x="908.46" y="277.00" font-size="11" fill="#111" text-anchor="middle" textLength="5.0" lengthAdjust="spacingAndGlyphs" >0</text>
<text x="940.66" y="277.00" font-size="11" fill="#111" text-anchor="middle" textLength="5.0" lengthAdjust="spacingAndGlyphs" >6</text>
<text x="972.86" y="277.00" font-size="11" fill="#111" text-anchor="middle" textLength="10.0" lengthAdjust="spacingAndGlyphs" >12</text>
<text x="1005.06" y="277.00" font-size="11" fill="#111" text-anchor="middle" textLength="10.0" lengthAdjust="spacingAndGlyphs" >18</text>
<text x="1037.26" y="277.00" font-size="11" fill="#111" text-anchor="middle" textLength="5.0" lengthAdjust="spacingAndGlyphs" >0</text>
<rect x="60.5" y="340.3" width="43.00" height="22.70" fill="#f8b878"/>
<rect x="103.5" y="357.2" width="64.75" height="5.80" fill="#f8b878"/>
<rect x="168.25" y="361" width="321.25" height="2.00" fill="#f8b878"/>
<rect x="489.5" y="343.9" width="64.80" height="19.10" fill="#f8b878"/>
<rect x="554.3" y="348.1" width="64.60" height="14.90" fill="#f8b878"/>
<rect x="618.9" y="355.8" width="64.60" height="7.20" fill="#f8b878"/>
<rect x="683.5" y="358.25" width="63.75" height="4.75" fill="#f8b878"/>
<rect x="747.25" y="355.8" width="63.75" height="7.20" fill="#f8b878"/>
<rect x="811" y="356.1" width="65.25" height="6.90" fill="#f8b878"/>
<rect x="876.25" y="351.9" width="64.00" height="11.10" fill="#f8b878"/>
<rect x="940.25" y="355.1" width="65.00" height="7.90" fill="#f8b878"/>
<rect x="1005.25" y="348.1" width="32.00" height="14.90" fill="#f8b878"/>
<rect x="60.5" y="360.8" width="43.00" height="2.20" fill="#f08878"/>
<rect x="489.5" y="360" width="64.80" height="3.00" fill="#f08878"/>
<rect x="618.9" y="359.7" width="64.60" height="3.30" fill="#f08878"/>
<rect x="747.25" y="360.3" width="63.75" height="2.70" fill="#f08878"/>
<rect x="876.25" y="361.4" width="64.00" height="1.60" fill="#f08878"/>
<rect x="1005.25" y="360.8" width="32.00" height="2.20" fill="#f08878"/>
<line x1="60.50" y1="342.69" x2="1037.25" y2="342.69" stroke="#b0b0b0" stroke-width="1" />
<line x1="60.50" y1="322.38" x2="1037.25" y2="322.38" stroke="#b0b0b0" stroke-width="1" />
<line x1="60.50" y1="302.06" x2="1037.25" y2="302.06" stroke="#b0b0b0" stroke-width="1" />
<line x1="71.24" y1="281.75" x2="71.24" y2="363.00" stroke="#b0b0b0" stroke-width="1" />
<line x1="103.44" y1="281.75" x2="103.44" y2="363.00" stroke="#b0b0b0" stroke-width="1" />
<line x1="167.84" y1="281.75" x2="167.84" y2="363.00" stroke="#b0b0b0" stroke-width="1" />
<line x1="200.04" y1="281.75" x2="200.04" y2="363.00" stroke="#b0b0b0" stroke-width="1" />
<line x1="232.24" y1="281.75" x2="232.24" y2="363.00" stroke="#b0b0b0" stroke-width="1" />
<line x1="296.64" y1="281.75" x2="296.64" y2="363.00" stroke="#b0b0b0" stroke-width="1" />
<line x1="328.84" y1="281.75" x2="328.84" y2="363.00" stroke="#b0b0b0" stroke-width="1" />
<line x1="361.05" y1="281.75" x2="361.05" y2="363.00" stroke="#b0b0b0" stroke-width="1" />
<line x1="425.45" y1="281.75" x2="425.45" y2="363.00" stroke="#b0b0b0" stroke-width="1" />
<line x1="457.65" y1="281.75" x2="457.65" y2="363.00" stroke="#b0b0b0" stroke-width="1" />
<line x1="489.85" y1="281.75" x2="489.85" y2="363.00" stroke="#b0b0b0" stroke-width="1" />
<line x1="554.25" y1="281.75" x2="554.25" y2="363.00" stroke="#b0b0b0" stroke-width="1" />
<line x1="586.45" y1="281.75" x2="586.45" y2="363.00" stroke="#b0b0b0" stroke-width="1" />
<line x1="618.65" y1="281.75" x2="618.65" y2="363.00" stroke="#b0b0b0" stroke-width="1" />
<line x1="683.05" y1="281.75" x2="683.05" y2="363.00" stroke="#b0b0b0" stroke-width="1" />
<line x1="715.25" y1="281.75" x2="715.25" y2="363.00" stroke="#b0b0b0" stroke-width="1" />
<line x1="747.46" y1="281.75" x2="747.46" y2="363.00" stroke="#b0b0b0" stroke-width="1" />
<line x1="811.86" y1="281.75" x2="811.86" y2="363.00" stroke="#b0b0b0" stroke-width="1" />
<line x1="844.06" y1="281.75" x2="844.06" y2="363.00" stroke="#b0b0b0" stroke-width="1" />
<line x1="876.26" y1="281.75" x2="876.26" y2="363.00" stroke="#b0b0b0" stroke-width="1" />
<line x1="940.66" y1="281.75" x2="940.66" y2="363.00" stroke="#b0b0b0" stroke-width="1" />
<line x1="972.86" y1="281.75" x2="972.86" y2="363.00" stroke="#b0b0b0" stroke-width="1" />
<line x1="1005.06" y1="281.75" x2="1005.06" y2="363.00" stroke="#b0b0b0" stroke-width="1" />
<line x1="135.64" y1="281.75" x2="135.64" y2="363.00" stroke="#222" stroke-width="1.5" />
<line x1="264.44" y1="281.75" x2="264.44" y2="363.00" stroke="#222" stroke-width="1.5" />
<line x1="393.25" y1="281.75" x2="393.25" y2="363.00" stroke="#222" stroke-width="1.5" />
<line x1="522.05" y1="281.75" x2="522.05" y2="363.00" stroke="#222" stroke-width="1.5" />
<line x1="650.85" y1="281.75" x2="650.85" y2="363.00" stroke="#222" stroke-width="1.5" />
<line x1="779.66" y1="281.75" x2="779.66" y2="363.00" stroke="#222" stroke-width="1.5" />
<line x1="908.46" y1="281.75" x2="908.46" y2="363.00" stroke="#222" stroke-width="1.5" />
<polyline points="60.50,342.00 71.25,337.50 76.25,334.50 86.25,330.50 91.25,332.00 103.00,336.25" fill="none" stroke="#b066ee" stroke-width="2.2" stroke-linejoin="round" stroke-linecap="butt" />
<polyline points="167.00,347.50 180.00,351.25 185.00,350.75 190.00,349.25 195.00,349.25 205.00,345.75 211.25,345.75 221.25,351.25 232.50,351.25" fill="none" stroke="#b066ee" stroke-width="2.2" stroke-linejoin="round" stroke-linecap="butt" />
<polyline points="296.25,351.25 307.00,349.50 317.00,349.50 328.25,345.75 334.50,345.75 339.50,343.75 354.50,349.25 361.25,349.25" fill="none" stroke="#b066ee" stroke-width="2.2" stroke-linejoin="round" stroke-linecap="butt" />
<polyline points="425.25,348.75 452.00,342.00 457.00,342.00 462.00,340.00 484.50,347.50 489.50,343.75" fill="none" stroke="#b066ee" stroke-width="2.2" stroke-linejoin="round" stroke-linecap="butt" />
<polyline points="554.00,338.00 564.00,335.75 571.50,338.00 576.50,338.00 581.50,334.25 601.50,334.25 612.75,342.00 618.25,342.00" fill="none" stroke="#b066ee" stroke-width="2.2" stroke-linejoin="round" stroke-linecap="butt" />
<polyline points="682.75,347.50 694.00,348.00 704.00,343.75 714.00,343.75 720.25,342.00 741.50,349.50 747.25,347.50" fill="none" stroke="#b066ee" stroke-width="2.2" stroke-linejoin="round" stroke-linecap="butt" />
<polyline points="811.00,345.75 821.00,345.75 828.50,343.75 836.00,343.75 848.50,338.25 853.50,338.25 876.00,348.00" fill="none" stroke="#b066ee" stroke-width="2.2" stroke-linejoin="round" stroke-linecap="butt" />
<polyline points="940.25,348.00 953.50,343.25 966.00,340.00 972.25,336.25 978.50,338.25 983.50,338.25 993.50,341.75 998.50,341.75 1005.25,343.75" fill="none" stroke="#b066ee" stroke-width="2.2" stroke-linejoin="round" stroke-linecap="butt" />
<polyline points="60.50,347.50 65.50,342.00 75.00,342.00 81.25,340.50 86.25,342.00 92.50,342.00 97.50,343.75 113.75,343.75 118.75,345.75 125.00,345.75 131.25,350.00 136.25,351.25 145.00,353.50 161.25,353.50 172.50,356.75 183.75,356.75 188.75,355.00 196.25,355.00 201.25,353.25 215.00,353.25 221.25,356.75 231.25,356.75 237.50,359.25 272.00,359.25 304.50,359.25 312.00,356.75 317.00,356.75 328.25,353.25 338.25,353.25 344.50,355.50 349.50,355.50 359.50,359.25 382.00,359.25 392.00,355.00 398.25,356.75 404.50,356.75 409.50,355.00 419.50,355.00 423.25,356.75 434.50,356.75 444.50,353.25 452.00,353.25 457.00,351.25 463.25,351.25 473.25,355.00 482.00,355.00 489.50,351.25 494.50,351.25 499.50,353.25 515.75,347.50 537.00,347.50 544.00,345.75 549.00,343.75 559.00,343.75 564.00,345.75 569.00,345.75 574.00,347.50 591.50,347.50 595.25,349.25 604.00,349.25 609.00,351.25 614.00,351.25 619.00,353.25 624.00,353.25 629.00,355.00 634.00,353.25 640.25,355.00 682.75,355.00 687.75,356.75 694.00,355.00 700.25,355.00 709.00,351.25 714.00,353.25 724.00,353.25 734.00,355.00 741.50,356.75 746.50,355.00 764.00,355.00 769.00,356.75 789.00,356.75 794.00,355.00 806.50,355.00 816.00,355.00 826.00,351.25 838.50,351.25 848.50,347.50 853.50,347.50 866.00,351.25 871.00,353.25 881.00,353.25 887.25,355.00 908.50,355.00 913.50,353.25 918.50,353.25 923.50,355.00 928.50,353.25 934.75,353.25 938.50,355.00 946.00,355.00 961.00,349.25 973.50,349.25 978.50,347.50 983.50,347.50 993.50,353.25 999.75,351.25 1004.75,353.25 1011.00,356.75 1028.50,356.75 1037.25,355.00" fill="none" stroke="#000" stroke-width="2.1" stroke-linejoin="round" stroke-linecap="butt" />
<circle cx="103.25" cy="321.25" r="2.3" fill="#b066ee"/>
<text x="106.45" y="319.25" font-size="14" fill="#b066ee" text-anchor="start" textLength="14" lengthAdjust="spacingAndGlyphs" >41</text>
<circle cx="168.25" cy="334.25" r="2.3" fill="#b066ee"/>
<text x="171.45" y="332.25" font-size="14" fill="#b066ee" text-anchor="start" textLength="14" lengthAdjust="spacingAndGlyphs" >28</text>
<circle cx="232.5" cy="342" r="2.3" fill="#b066ee"/>
<text x="235.70" y="340.00" font-size="14" fill="#b066ee" text-anchor="start" textLength="14" lengthAdjust="spacingAndGlyphs" >20</text>
<circle cx="296.25" cy="348" r="2.3" fill="#b066ee"/>
<text x="299.45" y="346.00" font-size="14" fill="#b066ee" text-anchor="start" textLength="14" lengthAdjust="spacingAndGlyphs" >15</text>
<circle cx="361.25" cy="342" r="2.3" fill="#b066ee"/>
<text x="364.45" y="340.00" font-size="14" fill="#b066ee" text-anchor="start" textLength="14" lengthAdjust="spacingAndGlyphs" >20</text>
<circle cx="425.25" cy="348" r="2.3" fill="#b066ee"/>
<text x="428.45" y="346.00" font-size="14" fill="#b066ee" text-anchor="start" textLength="14" lengthAdjust="spacingAndGlyphs" >15</text>
<circle cx="489.5" cy="336.25" r="2.3" fill="#b066ee"/>
<text x="492.70" y="334.25" font-size="14" fill="#b066ee" text-anchor="start" textLength="14" lengthAdjust="spacingAndGlyphs" >26</text>
<circle cx="554.5" cy="331.25" r="2.3" fill="#b066ee"/>
<text x="557.70" y="329.25" font-size="14" fill="#b066ee" text-anchor="start" textLength="14" lengthAdjust="spacingAndGlyphs" >32</text>
<circle cx="618.25" cy="329.25" r="2.3" fill="#b066ee"/>
<text x="621.45" y="327.25" font-size="14" fill="#b066ee" text-anchor="start" textLength="14" lengthAdjust="spacingAndGlyphs" >33</text>
<circle cx="683.5" cy="340.5" r="2.3" fill="#b066ee"/>
<text x="686.70" y="338.50" font-size="14" fill="#b066ee" text-anchor="start" textLength="14" lengthAdjust="spacingAndGlyphs" >22</text>
<circle cx="747.25" cy="338.25" r="2.3" fill="#b066ee"/>
<text x="750.45" y="336.25" font-size="14" fill="#b066ee" text-anchor="start" textLength="14" lengthAdjust="spacingAndGlyphs" >24</text>
<circle cx="811" cy="340.5" r="2.3" fill="#b066ee"/>
<text x="814.20" y="338.50" font-size="14" fill="#b066ee" text-anchor="start" textLength="14" lengthAdjust="spacingAndGlyphs" >22</text>
<circle cx="876.25" cy="333.25" r="2.3" fill="#b066ee"/>
<text x="879.45" y="331.25" font-size="14" fill="#b066ee" text-anchor="start" textLength="14" lengthAdjust="spacingAndGlyphs" >30</text>
<circle cx="940.25" cy="336.25" r="2.3" fill="#b066ee"/>
<text x="943.45" y="334.25" font-size="14" fill="#b066ee" text-anchor="start" textLength="14" lengthAdjust="spacingAndGlyphs" >26</text>
<circle cx="1005.25" cy="333.25" r="2.3" fill="#b066ee"/>
<text x="1008.45" y="331.25" font-size="14" fill="#b066ee" text-anchor="start" textLength="14" lengthAdjust="spacingAndGlyphs" >30</text>
<path d="M68.61,302.74L73.87,292.86M66.26,295.93L73.87,292.86L75.57,300.88" stroke="#000" stroke-width="1.55" fill="none" stroke-linecap="butt" stroke-linejoin="miter"/>
<path d="M84.54,302.65L90.14,292.95M82.43,295.75L90.14,292.95L91.56,301.03" stroke="#000" stroke-width="1.55" fill="none" stroke-linecap="butt" stroke-linejoin="miter"/>
<path d="M100.07,302.27L106.81,293.33M98.82,295.17L106.81,293.33L107.24,301.52" stroke="#000" stroke-width="1.55" fill="none" stroke-linecap="butt" stroke-linejoin="miter"/>
<path d="M116.09,302.21L122.99,293.39M114.97,295.09L122.99,293.39L123.27,301.58" stroke="#000" stroke-width="1.55" fill="none" stroke-linecap="butt" stroke-linejoin="miter"/>
<path d="M132.59,302.50L138.69,293.10M130.85,295.50L138.69,293.10L139.69,301.24" stroke="#000" stroke-width="1.55" fill="none" stroke-linecap="butt" stroke-linejoin="miter"/>
<path d="M148.45,302.33L155.03,293.27M147.08,295.25L155.03,293.27L155.60,301.45" stroke="#000" stroke-width="1.55" fill="none" stroke-linecap="butt" stroke-linejoin="miter"/>
<path d="M164.47,302.27L171.21,293.33M163.22,295.17L171.21,293.33L171.64,301.52" stroke="#000" stroke-width="1.55" fill="none" stroke-linecap="butt" stroke-linejoin="miter"/>
<path d="M179.71,301.47L188.17,294.13M179.97,294.27L188.17,294.13L186.88,302.23" stroke="#000" stroke-width="1.55" fill="none" stroke-linecap="butt" stroke-linejoin="miter"/>
<path d="M195.75,301.40L204.33,294.20M196.13,294.20L204.33,294.20L202.91,302.28" stroke="#000" stroke-width="1.55" fill="none" stroke-linecap="butt" stroke-linejoin="miter"/>
<path d="M212.18,301.76L220.10,293.84M211.93,294.55L220.10,293.84L219.39,302.01" stroke="#000" stroke-width="1.55" fill="none" stroke-linecap="butt" stroke-linejoin="miter"/>
<path d="M228.35,301.83L236.13,293.77M227.98,294.63L236.13,293.77L235.56,301.95" stroke="#000" stroke-width="1.55" fill="none" stroke-linecap="butt" stroke-linejoin="miter"/>
<path d="M243.40,300.43L253.29,295.17M245.27,293.47L253.29,295.17L250.22,302.77" stroke="#000" stroke-width="1.55" fill="none" stroke-linecap="butt" stroke-linejoin="miter"/>
<path d="M260.62,301.90L268.26,293.70M260.12,294.70L268.26,293.70L267.83,301.89" stroke="#000" stroke-width="1.55" fill="none" stroke-linecap="butt" stroke-linejoin="miter"/>
<path d="M276.01,301.09L285.07,294.51M276.89,293.94L285.07,294.51L283.09,302.46" stroke="#000" stroke-width="1.55" fill="none" stroke-linecap="butt" stroke-linejoin="miter"/>
<path d="M291.21,299.15L302.08,296.45M294.71,292.85L302.08,296.45L297.26,303.08" stroke="#000" stroke-width="1.55" fill="none" stroke-linecap="butt" stroke-linejoin="miter"/>
<path d="M307.55,299.90L317.94,295.70M310.14,293.17L317.94,295.70L314.09,302.94" stroke="#000" stroke-width="1.55" fill="none" stroke-linecap="butt" stroke-linejoin="miter"/>
<path d="M325.10,301.96L332.59,293.64M324.47,294.78L332.59,293.64L332.31,301.83" stroke="#000" stroke-width="1.55" fill="none" stroke-linecap="butt" stroke-linejoin="miter"/>
<path d="M340.85,301.62L349.04,293.98M340.85,294.41L349.04,293.98L348.04,302.12" stroke="#000" stroke-width="1.55" fill="none" stroke-linecap="butt" stroke-linejoin="miter"/>
<path d="M357.52,302.15L364.57,293.45M356.52,295.01L364.57,293.45L364.71,301.65" stroke="#000" stroke-width="1.55" fill="none" stroke-linecap="butt" stroke-linejoin="miter"/>
<path d="M372.73,301.25L381.56,294.35M373.36,294.07L381.56,294.35L379.85,302.37" stroke="#000" stroke-width="1.55" fill="none" stroke-linecap="butt" stroke-linejoin="miter"/>
<path d="M398.68,299.15L387.81,296.45M392.63,303.08L387.81,296.45L395.18,292.85" stroke="#000" stroke-width="1.55" fill="none" stroke-linecap="butt" stroke-linejoin="miter"/>
<path d="M410.70,292.37L407.99,303.23M414.63,298.41L407.99,303.23L404.40,295.86" stroke="#000" stroke-width="1.55" fill="none" stroke-linecap="butt" stroke-linejoin="miter"/>
<path d="M427.54,292.61L423.35,302.99M430.59,299.14L423.35,302.99L420.82,295.19" stroke="#000" stroke-width="1.55" fill="none" stroke-linecap="butt" stroke-linejoin="miter"/>
<path d="M437.80,301.96L445.29,293.64M437.17,294.78L445.29,293.64L445.01,301.83" stroke="#000" stroke-width="1.55" fill="none" stroke-linecap="butt" stroke-linejoin="miter"/>
<path d="M456.01,303.16L459.29,292.44M452.41,296.91L459.29,292.44L462.49,299.99" stroke="#000" stroke-width="1.55" fill="none" stroke-linecap="butt" stroke-linejoin="miter"/>
<path d="M471.93,303.09L475.57,292.51M468.54,296.73L475.57,292.51L478.51,300.16" stroke="#000" stroke-width="1.55" fill="none" stroke-linecap="butt" stroke-linejoin="miter"/>
<path d="M491.86,303.03L487.84,292.57M485.17,300.33L487.84,292.57L495.01,296.55" stroke="#000" stroke-width="1.55" fill="none" stroke-linecap="butt" stroke-linejoin="miter"/>
<path d="M509.24,302.33L502.66,293.27M502.09,301.45L502.66,293.27L510.61,295.25" stroke="#000" stroke-width="1.55" fill="none" stroke-linecap="butt" stroke-linejoin="miter"/>
<path d="M526.15,301.62L517.95,293.98M518.95,302.12L517.95,293.98L526.14,294.41" stroke="#000" stroke-width="1.55" fill="none" stroke-linecap="butt" stroke-linejoin="miter"/>
<path d="M538.64,303.38L537.66,292.22M532.96,298.94L537.66,292.22L543.46,298.02" stroke="#000" stroke-width="1.55" fill="none" stroke-linecap="butt" stroke-linejoin="miter"/>
<path d="M554.05,303.40L554.45,292.20M548.96,298.30L554.45,292.20L559.49,298.67" stroke="#000" stroke-width="1.55" fill="none" stroke-linecap="butt" stroke-linejoin="miter"/>
<path d="M569.28,303.30L571.42,292.30M565.05,297.46L571.42,292.30L575.39,299.47" stroke="#000" stroke-width="1.55" fill="none" stroke-linecap="butt" stroke-linejoin="miter"/>
<path d="M590.74,301.40L582.16,294.20M583.59,302.28L582.16,294.20L590.36,294.20" stroke="#000" stroke-width="1.55" fill="none" stroke-linecap="butt" stroke-linejoin="miter"/>
<path d="M603.33,303.35L601.77,292.25M597.43,299.21L601.77,292.25L607.87,297.74" stroke="#000" stroke-width="1.55" fill="none" stroke-linecap="butt" stroke-linejoin="miter"/>
<path d="M623.12,294.43L614.18,301.17M622.37,301.60L614.18,301.17L616.02,293.18" stroke="#000" stroke-width="1.55" fill="none" stroke-linecap="butt" stroke-linejoin="miter"/>
<path d="M636.11,292.37L633.40,303.23M640.03,298.41L633.40,303.23L629.80,295.86" stroke="#000" stroke-width="1.55" fill="none" stroke-linecap="butt" stroke-linejoin="miter"/>
<path d="M652.02,292.32L649.69,303.28M656.15,298.23L649.69,303.28L645.84,296.04" stroke="#000" stroke-width="1.55" fill="none" stroke-linecap="butt" stroke-linejoin="miter"/>
<path d="M665.22,292.47L668.68,303.13M671.76,295.52L668.68,303.13L661.73,298.78" stroke="#000" stroke-width="1.55" fill="none" stroke-linecap="butt" stroke-linejoin="miter"/>
<path d="M681.14,292.54L684.97,303.06M687.77,295.36L684.97,303.06L677.87,298.96" stroke="#000" stroke-width="1.55" fill="none" stroke-linecap="butt" stroke-linejoin="miter"/>
<path d="M700.60,292.39L697.70,303.21M704.42,298.51L697.70,303.21L694.24,295.78" stroke="#000" stroke-width="1.55" fill="none" stroke-linecap="butt" stroke-linejoin="miter"/>
<path d="M716.80,292.42L713.71,303.18M720.51,298.60L713.71,303.18L710.38,295.69" stroke="#000" stroke-width="1.55" fill="none" stroke-linecap="butt" stroke-linejoin="miter"/>
<path d="M730.96,292.21L731.75,303.39M736.57,296.75L731.75,303.39L726.05,297.49" stroke="#000" stroke-width="1.55" fill="none" stroke-linecap="butt" stroke-linejoin="miter"/>
<path d="M745.27,292.65L749.64,302.95M752.04,295.11L749.64,302.95L742.34,299.23" stroke="#000" stroke-width="1.55" fill="none" stroke-linecap="butt" stroke-linejoin="miter"/>
<path d="M762.39,292.32L764.72,303.28M768.57,296.04L764.72,303.28L758.26,298.23" stroke="#000" stroke-width="1.55" fill="none" stroke-linecap="butt" stroke-linejoin="miter"/>
<path d="M781.20,292.42L778.11,303.18M784.91,298.60L778.11,303.18L774.78,295.69" stroke="#000" stroke-width="1.55" fill="none" stroke-linecap="butt" stroke-linejoin="miter"/>
<path d="M797.02,292.34L794.50,303.26M801.05,298.32L794.50,303.26L790.77,295.95" stroke="#000" stroke-width="1.55" fill="none" stroke-linecap="butt" stroke-linejoin="miter"/>
<path d="M813.77,292.54L809.94,303.06M817.04,298.96L809.94,303.06L807.14,295.36" stroke="#000" stroke-width="1.55" fill="none" stroke-linecap="butt" stroke-linejoin="miter"/>
<path d="M830.05,292.61L825.86,302.99M833.10,299.14L825.86,302.99L823.33,295.19" stroke="#000" stroke-width="1.55" fill="none" stroke-linecap="butt" stroke-linejoin="miter"/>
<path d="M839.71,301.32L848.41,294.28M840.21,294.13L848.41,294.28L846.84,302.33" stroke="#000" stroke-width="1.55" fill="none" stroke-linecap="butt" stroke-linejoin="miter"/>
<path d="M860.06,303.40L860.26,292.20M854.88,298.39L860.26,292.20L865.42,298.57" stroke="#000" stroke-width="1.55" fill="none" stroke-linecap="butt" stroke-linejoin="miter"/>
<path d="M876.65,303.39L875.87,292.21M871.05,298.85L875.87,292.21L881.56,298.11" stroke="#000" stroke-width="1.55" fill="none" stroke-linecap="butt" stroke-linejoin="miter"/>
<path d="M888.26,301.62L896.45,293.98M888.27,294.41L896.45,293.98L895.46,302.12" stroke="#000" stroke-width="1.55" fill="none" stroke-linecap="butt" stroke-linejoin="miter"/>
<path d="M903.34,295.52L913.58,300.08M909.98,292.71L913.58,300.08L905.69,302.34" stroke="#000" stroke-width="1.55" fill="none" stroke-linecap="butt" stroke-linejoin="miter"/>
<path d="M919.37,299.90L929.75,295.70M921.95,293.17L929.75,295.70L925.90,302.94" stroke="#000" stroke-width="1.55" fill="none" stroke-linecap="butt" stroke-linejoin="miter"/>
<path d="M935.16,296.73L946.16,298.87M941.00,292.50L946.16,298.87L938.99,302.84" stroke="#000" stroke-width="1.55" fill="none" stroke-linecap="butt" stroke-linejoin="miter"/>
<path d="M951.16,298.00L962.36,297.60M955.90,292.56L962.36,297.60L956.26,303.09" stroke="#000" stroke-width="1.55" fill="none" stroke-linecap="butt" stroke-linejoin="miter"/>
<path d="M967.74,300.08L977.98,295.52M970.09,293.26L977.98,295.52L974.38,302.89" stroke="#000" stroke-width="1.55" fill="none" stroke-linecap="butt" stroke-linejoin="miter"/>
<path d="M989.74,292.25L988.18,303.35M994.28,297.86L988.18,303.35L983.84,296.39" stroke="#000" stroke-width="1.55" fill="none" stroke-linecap="butt" stroke-linejoin="miter"/>
<path d="M1000.47,294.59L1009.65,301.01M1007.53,293.09L1009.65,301.01L1001.48,301.73" stroke="#000" stroke-width="1.55" fill="none" stroke-linecap="butt" stroke-linejoin="miter"/>
<path d="M1016.47,294.75L1025.86,300.85M1023.46,293.01L1025.86,300.85L1017.72,301.85" stroke="#000" stroke-width="1.55" fill="none" stroke-linecap="butt" stroke-linejoin="miter"/>
<rect x="60.5" y="281.75" width="976.75" height="81.25" fill="none" stroke="#111" stroke-width="1.15"/>
<text x="66.00" y="291.00" font-size="11.5" fill="#000" text-anchor="start" textLength="176.5" lengthAdjust="spacingAndGlyphs" >Mittlere Windgeschwindigkeit 10min</text>
<text x="263.00" y="291.00" font-size="11.5" fill="#b066ee" text-anchor="start" textLength="66" lengthAdjust="spacingAndGlyphs" >Windböen 1h</text>
<text x="365.75" y="291.00" font-size="11.5" fill="#b066ee" text-anchor="start" textLength="126" lengthAdjust="spacingAndGlyphs" >Zahl: max. Böe letzte 12h</text>
<text x="779.00" y="291.00" font-size="11.5" fill="#000" text-anchor="start" textLength="141.5" lengthAdjust="spacingAndGlyphs" >12h Wahrscheinlichkeit Böen</text>
<text x="921.50" y="291.00" font-size="11.5" fill="#e0a060" text-anchor="start" textLength="20.75" lengthAdjust="spacingAndGlyphs" font-weight="bold">&gt;45</text>
<text x="945.50" y="291.00" font-size="11.5" fill="#f08070" text-anchor="start" textLength="20.5" lengthAdjust="spacingAndGlyphs" font-weight="bold">&gt;75</text>
<text x="972.25" y="291.00" font-size="11.5" fill="#e070e0" text-anchor="start" textLength="58.25" lengthAdjust="spacingAndGlyphs" font-weight="bold">&gt;100 km/h</text>
<text x="56.00" y="306.06" font-size="11" fill="#111" text-anchor="end" textLength="10.0" lengthAdjust="spacingAndGlyphs" >60</text>
<text x="56.00" y="326.38" font-size="11" fill="#111" text-anchor="end" textLength="10.0" lengthAdjust="spacingAndGlyphs" >40</text>
<text x="56.00" y="346.69" font-size="11" fill="#111" text-anchor="end" textLength="10.0" lengthAdjust="spacingAndGlyphs" >20</text>
<text x="56.00" y="367.00" font-size="11" fill="#111" text-anchor="end" textLength="5.0" lengthAdjust="spacingAndGlyphs" >0</text>
<text x="1041.00" y="285.75" font-size="11" fill="#111" text-anchor="start" textLength="16.200000000000003" lengthAdjust="spacingAndGlyphs" >100</text>
<text x="1041.00" y="306.06" font-size="11" fill="#111" text-anchor="start" textLength="10.8" lengthAdjust="spacingAndGlyphs" >75</text>
<text x="1041.00" y="326.38" font-size="11" fill="#111" text-anchor="start" textLength="10.8" lengthAdjust="spacingAndGlyphs" >50</text>
<text x="1041.00" y="346.69" font-size="11" fill="#111" text-anchor="start" textLength="10.8" lengthAdjust="spacingAndGlyphs" >25</text>
<text x="1041.00" y="367.00" font-size="11" fill="#111" text-anchor="start" textLength="5.4" lengthAdjust="spacingAndGlyphs" >0</text>
<text x="71.24" y="375.25" font-size="11" fill="#111" text-anchor="middle" textLength="10.0" lengthAdjust="spacingAndGlyphs" >12</text>
<text x="103.44" y="375.25" font-size="11" fill="#111" text-anchor="middle" textLength="10.0" lengthAdjust="spacingAndGlyphs" >18</text>
<text x="135.64" y="375.25" font-size="11" fill="#111" text-anchor="middle" textLength="5.0" lengthAdjust="spacingAndGlyphs" >0</text>
<text x="167.84" y="375.25" font-size="11" fill="#111" text-anchor="middle" textLength="5.0" lengthAdjust="spacingAndGlyphs" >6</text>
<text x="200.04" y="375.25" font-size="11" fill="#111" text-anchor="middle" textLength="10.0" lengthAdjust="spacingAndGlyphs" >12</text>
<text x="232.24" y="375.25" font-size="11" fill="#111" text-anchor="middle" textLength="10.0" lengthAdjust="spacingAndGlyphs" >18</text>
<text x="264.44" y="375.25" font-size="11" fill="#111" text-anchor="middle" textLength="5.0" lengthAdjust="spacingAndGlyphs" >0</text>
<text x="296.64" y="375.25" font-size="11" fill="#111" text-anchor="middle" textLength="5.0" lengthAdjust="spacingAndGlyphs" >6</text>
<text x="328.84" y="375.25" font-size="11" fill="#111" text-anchor="middle" textLength="10.0" lengthAdjust="spacingAndGlyphs" >12</text>
<text x="361.05" y="375.25" font-size="11" fill="#111" text-anchor="middle" textLength="10.0" lengthAdjust="spacingAndGlyphs" >18</text>
<text x="393.25" y="375.25" font-size="11" fill="#111" text-anchor="middle" textLength="5.0" lengthAdjust="spacingAndGlyphs" >0</text>
<text x="425.45" y="375.25" font-size="11" fill="#111" text-anchor="middle" textLength="5.0" lengthAdjust="spacingAndGlyphs" >6</text>
<text x="457.65" y="375.25" font-size="11" fill="#111" text-anchor="middle" textLength="10.0" lengthAdjust="spacingAndGlyphs" >12</text>
<text x="489.85" y="375.25" font-size="11" fill="#111" text-anchor="middle" textLength="10.0" lengthAdjust="spacingAndGlyphs" >18</text>
<text x="522.05" y="375.25" font-size="11" fill="#111" text-anchor="middle" textLength="5.0" lengthAdjust="spacingAndGlyphs" >0</text>
<text x="554.25" y="375.25" font-size="11" fill="#111" text-anchor="middle" textLength="5.0" lengthAdjust="spacingAndGlyphs" >6</text>
<text x="586.45" y="375.25" font-size="11" fill="#111" text-anchor="middle" textLength="10.0" lengthAdjust="spacingAndGlyphs" >12</text>
<text x="618.65" y="375.25" font-size="11" fill="#111" text-anchor="middle" textLength="10.0" lengthAdjust="spacingAndGlyphs" >18</text>
<text x="650.85" y="375.25" font-size="11" fill="#111" text-anchor="middle" textLength="5.0" lengthAdjust="spacingAndGlyphs" >0</text>
<text x="683.05" y="375.25" font-size="11" fill="#111" text-anchor="middle" textLength="5.0" lengthAdjust="spacingAndGlyphs" >6</text>
<text x="715.25" y="375.25" font-size="11" fill="#111" text-anchor="middle" textLength="10.0" lengthAdjust="spacingAndGlyphs" >12</text>
<text x="747.46" y="375.25" font-size="11" fill="#111" text-anchor="middle" textLength="10.0" lengthAdjust="spacingAndGlyphs" >18</text>
<text x="779.66" y="375.25" font-size="11" fill="#111" text-anchor="middle" textLength="5.0" lengthAdjust="spacingAndGlyphs" >0</text>
<text x="811.86" y="375.25" font-size="11" fill="#111" text-anchor="middle" textLength="5.0" lengthAdjust="spacingAndGlyphs" >6</text>
<text x="844.06" y="375.25" font-size="11" fill="#111" text-anchor="middle" textLength="10.0" lengthAdjust="spacingAndGlyphs" >12</text>
<text x="876.26" y="375.25" font-size="11" fill="#111" text-anchor="middle" textLength="10.0" lengthAdjust="spacingAndGlyphs" >18</text>
<text x="908.46" y="375.25" font-size="11" fill="#111" text-anchor="middle" textLength="5.0" lengthAdjust="spacingAndGlyphs" >0</text>
<text x="940.66" y="375.25" font-size="11" fill="#111" text-anchor="middle" textLength="5.0" lengthAdjust="spacingAndGlyphs" >6</text>
<text x="972.86" y="375.25" font-size="11" fill="#111" text-anchor="middle" textLength="10.0" lengthAdjust="spacingAndGlyphs" >12</text>
<text x="1005.06" y="375.25" font-size="11" fill="#111" text-anchor="middle" textLength="10.0" lengthAdjust="spacingAndGlyphs" >18</text>
<text x="1037.26" y="375.25" font-size="11" fill="#111" text-anchor="middle" textLength="5.0" lengthAdjust="spacingAndGlyphs" >0</text>
<rect x="60.50" y="470.45" width="10.73" height="33.80" fill="#4f6fcc"/>
<rect x="71.24" y="464.37" width="16.10" height="39.88" fill="#4f6fcc"/>
<rect x="87.34" y="421.78" width="16.10" height="82.47" fill="#4f6fcc"/>
<rect x="103.44" y="490.21" width="16.10" height="14.04" fill="#4f6fcc"/>
<rect x="119.54" y="474.09" width="16.10" height="30.16" fill="#4f6fcc"/>
<rect x="135.64" y="497.07" width="16.10" height="7.18" fill="#4f6fcc"/>
<rect x="489.85" y="493.07" width="16.10" height="11.18" fill="#4f6fcc"/>
<rect x="505.95" y="481.37" width="16.10" height="22.88" fill="#4f6fcc"/>
<rect x="522.05" y="483.97" width="16.10" height="20.28" fill="#4f6fcc"/>
<rect x="538.15" y="450.69" width="16.10" height="53.56" fill="#4f6fcc"/>
<line x1="60.50" y1="473.05" x2="1037.25" y2="473.05" stroke="#b0b0b0" stroke-width="1" />
<line x1="60.50" y1="441.85" x2="1037.25" y2="441.85" stroke="#b0b0b0" stroke-width="1" />
<line x1="60.50" y1="410.65" x2="1037.25" y2="410.65" stroke="#b0b0b0" stroke-width="1" />
<line x1="71.24" y1="379.50" x2="71.24" y2="504.25" stroke="#b0b0b0" stroke-width="1" />
<line x1="103.44" y1="379.50" x2="103.44" y2="504.25" stroke="#b0b0b0" stroke-width="1" />
<line x1="167.84" y1="379.50" x2="167.84" y2="504.25" stroke="#b0b0b0" stroke-width="1" />
<line x1="200.04" y1="379.50" x2="200.04" y2="504.25" stroke="#b0b0b0" stroke-width="1" />
<line x1="232.24" y1="379.50" x2="232.24" y2="504.25" stroke="#b0b0b0" stroke-width="1" />
<line x1="296.64" y1="379.50" x2="296.64" y2="504.25" stroke="#b0b0b0" stroke-width="1" />
<line x1="328.84" y1="379.50" x2="328.84" y2="504.25" stroke="#b0b0b0" stroke-width="1" />
<line x1="361.05" y1="379.50" x2="361.05" y2="504.25" stroke="#b0b0b0" stroke-width="1" />
<line x1="425.45" y1="379.50" x2="425.45" y2="504.25" stroke="#b0b0b0" stroke-width="1" />
<line x1="457.65" y1="379.50" x2="457.65" y2="504.25" stroke="#b0b0b0" stroke-width="1" />
<line x1="489.85" y1="379.50" x2="489.85" y2="504.25" stroke="#b0b0b0" stroke-width="1" />
<line x1="554.25" y1="379.50" x2="554.25" y2="504.25" stroke="#b0b0b0" stroke-width="1" />
<line x1="586.45" y1="379.50" x2="586.45" y2="504.25" stroke="#b0b0b0" stroke-width="1" />
<line x1="618.65" y1="379.50" x2="618.65" y2="504.25" stroke="#b0b0b0" stroke-width="1" />
<line x1="683.05" y1="379.50" x2="683.05" y2="504.25" stroke="#b0b0b0" stroke-width="1" />
<line x1="715.25" y1="379.50" x2="715.25" y2="504.25" stroke="#b0b0b0" stroke-width="1" />
<line x1="747.46" y1="379.50" x2="747.46" y2="504.25" stroke="#b0b0b0" stroke-width="1" />
<line x1="811.86" y1="379.50" x2="811.86" y2="504.25" stroke="#b0b0b0" stroke-width="1" />
<line x1="844.06" y1="379.50" x2="844.06" y2="504.25" stroke="#b0b0b0" stroke-width="1" />
<line x1="876.26" y1="379.50" x2="876.26" y2="504.25" stroke="#b0b0b0" stroke-width="1" />
<line x1="940.66" y1="379.50" x2="940.66" y2="504.25" stroke="#b0b0b0" stroke-width="1" />
<line x1="972.86" y1="379.50" x2="972.86" y2="504.25" stroke="#b0b0b0" stroke-width="1" />
<line x1="1005.06" y1="379.50" x2="1005.06" y2="504.25" stroke="#b0b0b0" stroke-width="1" />
<line x1="135.64" y1="379.50" x2="135.64" y2="504.25" stroke="#222" stroke-width="1.5" />
<line x1="264.44" y1="379.50" x2="264.44" y2="504.25" stroke="#222" stroke-width="1.5" />
<line x1="393.25" y1="379.50" x2="393.25" y2="504.25" stroke="#222" stroke-width="1.5" />
<line x1="522.05" y1="379.50" x2="522.05" y2="504.25" stroke="#222" stroke-width="1.5" />
<line x1="650.85" y1="379.50" x2="650.85" y2="504.25" stroke="#222" stroke-width="1.5" />
<line x1="779.66" y1="379.50" x2="779.66" y2="504.25" stroke="#222" stroke-width="1.5" />
<line x1="908.46" y1="379.50" x2="908.46" y2="504.25" stroke="#222" stroke-width="1.5" />
<text x="63.50" y="468.45" font-size="13" fill="#111" text-anchor="middle" >6</text>
<text x="79.29" y="462.37" font-size="13" fill="#111" text-anchor="middle" >8</text>
<text x="95.39" y="419.78" font-size="13" fill="#111" text-anchor="middle" >16</text>
<text x="111.49" y="488.21" font-size="13" fill="#111" text-anchor="middle" >3</text>
<text x="127.59" y="472.09" font-size="13" fill="#111" text-anchor="middle" >6</text>
<text x="143.69" y="495.07" font-size="13" fill="#111" text-anchor="middle" >1</text>
<text x="497.90" y="491.07" font-size="13" fill="#111" text-anchor="middle" >2</text>
<text x="514.00" y="479.37" font-size="13" fill="#111" text-anchor="middle" >4</text>
<text x="530.10" y="481.97" font-size="13" fill="#111" text-anchor="middle" >4</text>
<text x="546.20" y="448.69" font-size="13" fill="#111" text-anchor="middle" >10</text>
<text x="159.79" y="503.00" font-size="13" fill="#999" text-anchor="middle" >0</text>
<text x="175.89" y="503.00" font-size="13" fill="#999" text-anchor="middle" >0</text>
<text x="191.99" y="503.00" font-size="13" fill="#999" text-anchor="middle" >0</text>
<text x="208.09" y="503.00" font-size="13" fill="#999" text-anchor="middle" >0</text>
<text x="224.19" y="503.00" font-size="13" fill="#999" text-anchor="middle" >0</text>
<text x="240.29" y="503.00" font-size="13" fill="#999" text-anchor="middle" >0</text>
<text x="256.39" y="503.00" font-size="13" fill="#999" text-anchor="middle" >0</text>
<text x="272.49" y="503.00" font-size="13" fill="#999" text-anchor="middle" >0</text>
<text x="288.59" y="503.00" font-size="13" fill="#999" text-anchor="middle" >0</text>
<text x="304.69" y="503.00" font-size="13" fill="#999" text-anchor="middle" >0</text>
<text x="320.79" y="503.00" font-size="13" fill="#999" text-anchor="middle" >0</text>
<text x="336.89" y="503.00" font-size="13" fill="#999" text-anchor="middle" >0</text>
<text x="353.00" y="503.00" font-size="13" fill="#999" text-anchor="middle" >0</text>
<text x="369.10" y="503.00" font-size="13" fill="#999" text-anchor="middle" >0</text>
<text x="385.20" y="503.00" font-size="13" fill="#999" text-anchor="middle" >0</text>
<text x="401.30" y="503.00" font-size="13" fill="#999" text-anchor="middle" >0</text>
<text x="417.40" y="503.00" font-size="13" fill="#999" text-anchor="middle" >0</text>
<text x="433.50" y="503.00" font-size="13" fill="#999" text-anchor="middle" >0</text>
<text x="449.60" y="503.00" font-size="13" fill="#999" text-anchor="middle" >0</text>
<text x="465.70" y="503.00" font-size="13" fill="#999" text-anchor="middle" >0</text>
<text x="481.80" y="503.00" font-size="13" fill="#999" text-anchor="middle" >0</text>
<text x="562.30" y="503.00" font-size="13" fill="#999" text-anchor="middle" >0</text>
<text x="578.40" y="503.00" font-size="13" fill="#999" text-anchor="middle" >0</text>
<text x="594.50" y="503.00" font-size="13" fill="#999" text-anchor="middle" >0</text>
<text x="610.60" y="503.00" font-size="13" fill="#999" text-anchor="middle" >0</text>
<text x="626.70" y="503.00" font-size="13" fill="#999" text-anchor="middle" >0</text>
<text x="642.80" y="503.00" font-size="13" fill="#999" text-anchor="middle" >0</text>
<text x="658.90" y="503.00" font-size="13" fill="#999" text-anchor="middle" >0</text>
<text x="675.00" y="503.00" font-size="13" fill="#999" text-anchor="middle" >0</text>
<text x="691.10" y="503.00" font-size="13" fill="#999" text-anchor="middle" >0</text>
<text x="707.20" y="503.00" font-size="13" fill="#999" text-anchor="middle" >0</text>
<text x="723.30" y="503.00" font-size="13" fill="#999" text-anchor="middle" >0</text>
<text x="739.40" y="503.00" font-size="13" fill="#999" text-anchor="middle" >0</text>
<text x="755.51" y="503.00" font-size="13" fill="#999" text-anchor="middle" >0</text>
<text x="771.61" y="503.00" font-size="13" fill="#999" text-anchor="middle" >0</text>
<text x="787.71" y="503.00" font-size="13" fill="#999" text-anchor="middle" >0</text>
<text x="803.81" y="503.00" font-size="13" fill="#999" text-anchor="middle" >0</text>
<text x="819.91" y="503.00" font-size="13" fill="#999" text-anchor="middle" >0</text>
<text x="836.01" y="503.00" font-size="13" fill="#999" text-anchor="middle" >0</text>
<text x="852.11" y="503.00" font-size="13" fill="#999" text-anchor="middle" >0</text>
<text x="868.21" y="503.00" font-size="13" fill="#999" text-anchor="middle" >0</text>
<text x="884.31" y="503.00" font-size="13" fill="#999" text-anchor="middle" >0</text>
<text x="900.41" y="503.00" font-size="13" fill="#999" text-anchor="middle" >0</text>
<text x="916.51" y="503.00" font-size="13" fill="#999" text-anchor="middle" >0</text>
<text x="932.61" y="503.00" font-size="13" fill="#999" text-anchor="middle" >0</text>
<text x="948.71" y="503.00" font-size="13" fill="#999" text-anchor="middle" >0</text>
<text x="964.81" y="503.00" font-size="13" fill="#999" text-anchor="middle" >0</text>
<text x="980.91" y="503.00" font-size="13" fill="#999" text-anchor="middle" >0</text>
<text x="997.01" y="503.00" font-size="13" fill="#999" text-anchor="middle" >0</text>
<text x="1013.11" y="503.00" font-size="13" fill="#999" text-anchor="middle" >0</text>
<text x="1029.21" y="503.00" font-size="13" fill="#999" text-anchor="middle" >0</text>
<polyline points="71.25,442.50 103.00,425.00 135.25,437.00 167.50,461.25 200.00,492.00 264.50,499.50 296.25,487.00 328.25,495.00 360.75,500.75 393.25,501.75 425.25,495.75 457.00,494.25 489.50,470.00 522.00,452.50 554.00,448.75 586.50,461.25 619.00,482.50 650.25,487.00 682.75,470.00 715.25,492.00 747.00,493.25 779.00,453.75 811.50,460.00 844.00,479.50 876.50,493.25 908.50,499.50 940.25,480.75 972.25,488.25 1005.25,494.25 1037.25,483.25" fill="none" stroke="#808080" stroke-width="1.6" stroke-linejoin="round" stroke-linecap="butt" />
<polyline points="60.50,497.00 65.00,492.50 72.50,487.50 77.50,485.75 82.50,486.25 87.00,491.75 92.50,485.50 97.50,483.75 103.00,493.00 107.50,488.75 113.75,488.75 120.00,495.00 125.00,491.25 130.00,493.00 135.00,498.00 140.00,497.50 151.25,501.75 167.50,501.75 177.50,498.75 183.75,501.75 188.75,496.25 200.00,501.25 215.00,501.25 220.00,502.00 250.00,502.00 256.25,499.50 265.00,501.75 272.00,501.75 287.00,503.00 342.00,502.50 347.00,503.75 393.25,503.75 403.25,500.50 409.50,502.50 415.75,500.50 423.25,503.75 442.00,503.75 450.75,499.50 457.00,502.50 464.50,499.50 480.75,500.50 489.50,499.25 499.50,501.75 505.75,501.75 515.75,499.50 522.00,501.75 527.00,497.50 533.25,495.75 537.50,499.50 544.00,487.50 549.00,482.50 554.00,497.00 559.00,480.75 564.00,485.50 570.25,498.00 575.25,487.00 581.50,483.75 586.50,499.50 591.50,478.75 596.50,476.25 602.00,487.00 607.75,468.75 612.75,463.75 618.25,483.00 623.50,461.25 629.00,463.75 634.50,494.50 639.50,476.25 645.25,485.50 650.25,499.50 659.00,496.25 666.50,502.50 674.00,498.00 682.75,500.50 691.50,498.75 699.00,502.00 706.50,500.50 715.25,502.00 724.00,498.00 730.25,500.50 736.50,498.00 746.50,499.50 751.50,499.50 756.50,500.50 764.00,499.50 769.00,500.00 779.00,500.50 784.00,502.00 816.00,502.00 859.75,502.00 868.50,500.00 876.00,499.50 881.00,499.50 886.00,497.50 891.00,500.50 897.25,497.00 902.25,498.75 908.50,500.50 916.00,501.75 966.00,501.75 972.25,503.75 983.50,501.25 988.50,500.50 998.50,500.50 1004.75,498.25 1009.75,500.50 1018.50,500.50 1026.00,501.75 1037.25,501.75" fill="none" stroke="#ff0000" stroke-width="1.6" stroke-linejoin="round" stroke-linecap="butt" />
<rect x="60.5" y="379.5" width="976.75" height="124.75" fill="none" stroke="#111" stroke-width="1.15"/>
<text x="61.25" y="392.00" font-size="12" fill="#111" text-anchor="start" textLength="31.25" lengthAdjust="spacingAndGlyphs" >RR12h</text>
<text x="61.25" y="404.50" font-size="12" fill="#111" text-anchor="start" textLength="26.25" lengthAdjust="spacingAndGlyphs" >ww3h</text>
<text x="103.44" y="391.50" font-size="9.8" fill="#111" text-anchor="middle" textLength="10.2" lengthAdjust="spacingAndGlyphs" >35</text>
<text x="167.84" y="391.50" font-size="9.8" fill="#111" text-anchor="middle" textLength="5.1" lengthAdjust="spacingAndGlyphs" >8</text>
<text x="232.24" y="391.50" font-size="9.8" fill="#111" text-anchor="middle" textLength="5.1" lengthAdjust="spacingAndGlyphs" >0</text>
<text x="296.64" y="391.50" font-size="9.8" fill="#111" text-anchor="middle" textLength="5.1" lengthAdjust="spacingAndGlyphs" >0</text>
<text x="361.05" y="391.50" font-size="9.8" fill="#111" text-anchor="middle" textLength="5.1" lengthAdjust="spacingAndGlyphs" >0</text>
<text x="425.45" y="391.50" font-size="9.8" fill="#111" text-anchor="middle" textLength="5.1" lengthAdjust="spacingAndGlyphs" >0</text>
<text x="489.85" y="391.50" font-size="9.8" fill="#111" text-anchor="middle" textLength="5.1" lengthAdjust="spacingAndGlyphs" >0</text>
<text x="554.25" y="391.50" font-size="9.8" fill="#111" text-anchor="middle" textLength="10.2" lengthAdjust="spacingAndGlyphs" >20</text>
<text x="618.65" y="391.50" font-size="9.8" fill="#111" text-anchor="middle" textLength="5.1" lengthAdjust="spacingAndGlyphs" >0</text>
<text x="683.05" y="391.50" font-size="9.8" fill="#111" text-anchor="middle" textLength="5.1" lengthAdjust="spacingAndGlyphs" >0</text>
<text x="747.46" y="391.50" font-size="9.8" fill="#111" text-anchor="middle" textLength="5.1" lengthAdjust="spacingAndGlyphs" >0</text>
<text x="811.86" y="391.50" font-size="9.8" fill="#111" text-anchor="middle" textLength="5.1" lengthAdjust="spacingAndGlyphs" >0</text>
<text x="876.26" y="391.50" font-size="9.8" fill="#111" text-anchor="middle" textLength="5.1" lengthAdjust="spacingAndGlyphs" >0</text>
<text x="940.66" y="391.50" font-size="9.8" fill="#111" text-anchor="middle" textLength="5.1" lengthAdjust="spacingAndGlyphs" >0</text>
<text x="1005.06" y="391.50" font-size="9.8" fill="#111" text-anchor="middle" textLength="5.1" lengthAdjust="spacingAndGlyphs" >0</text>
<text x="95.39" y="403.50" font-size="9.8" fill="#111" text-anchor="middle" textLength="10.2" lengthAdjust="spacingAndGlyphs" >65</text>
<text x="111.49" y="403.50" font-size="9.8" fill="#111" text-anchor="middle" textLength="10.2" lengthAdjust="spacingAndGlyphs" >65</text>
<text x="127.59" y="403.50" font-size="9.8" fill="#111" text-anchor="middle" textLength="10.2" lengthAdjust="spacingAndGlyphs" >63</text>
<text x="143.69" y="403.50" font-size="9.8" fill="#111" text-anchor="middle" textLength="10.2" lengthAdjust="spacingAndGlyphs" >61</text>
<text x="481.80" y="403.50" font-size="9.8" fill="#111" text-anchor="middle" textLength="10.2" lengthAdjust="spacingAndGlyphs" >61</text>
<text x="497.90" y="403.50" font-size="9.8" fill="#111" text-anchor="middle" textLength="10.2" lengthAdjust="spacingAndGlyphs" >61</text>
<text x="514.00" y="403.50" font-size="9.8" fill="#111" text-anchor="middle" textLength="10.2" lengthAdjust="spacingAndGlyphs" >61</text>
<text x="530.10" y="403.50" font-size="9.8" fill="#111" text-anchor="middle" textLength="10.2" lengthAdjust="spacingAndGlyphs" >63</text>
<text x="546.20" y="403.50" font-size="9.8" fill="#111" text-anchor="middle" textLength="10.2" lengthAdjust="spacingAndGlyphs" >63</text>
<text x="562.30" y="403.50" font-size="9.8" fill="#111" text-anchor="middle" textLength="10.2" lengthAdjust="spacingAndGlyphs" >63</text>
<text x="578.40" y="403.50" font-size="9.8" fill="#111" text-anchor="middle" textLength="10.2" lengthAdjust="spacingAndGlyphs" >63</text>
<text x="594.50" y="403.50" font-size="9.8" fill="#111" text-anchor="middle" textLength="10.2" lengthAdjust="spacingAndGlyphs" >63</text>
<text x="610.60" y="403.50" font-size="9.8" fill="#111" text-anchor="middle" textLength="10.2" lengthAdjust="spacingAndGlyphs" >63</text>
<text x="626.70" y="403.50" font-size="9.8" fill="#111" text-anchor="middle" textLength="10.2" lengthAdjust="spacingAndGlyphs" >61</text>
<text x="642.80" y="403.50" font-size="9.8" fill="#111" text-anchor="middle" textLength="10.2" lengthAdjust="spacingAndGlyphs" >61</text>
<text x="658.90" y="403.50" font-size="9.8" fill="#111" text-anchor="middle" textLength="10.2" lengthAdjust="spacingAndGlyphs" >61</text>
<text x="723.30" y="403.50" font-size="9.8" fill="#111" text-anchor="middle" textLength="10.2" lengthAdjust="spacingAndGlyphs" >61</text>
<text x="739.40" y="403.50" font-size="9.8" fill="#111" text-anchor="middle" textLength="10.2" lengthAdjust="spacingAndGlyphs" >61</text>
<text x="755.51" y="403.50" font-size="9.8" fill="#111" text-anchor="middle" textLength="10.2" lengthAdjust="spacingAndGlyphs" >61</text>
<text x="787.71" y="403.50" font-size="9.8" fill="#111" text-anchor="middle" textLength="10.2" lengthAdjust="spacingAndGlyphs" >61</text>
<text x="803.81" y="403.50" font-size="9.8" fill="#111" text-anchor="middle" textLength="10.2" lengthAdjust="spacingAndGlyphs" >61</text>
<text x="819.91" y="403.50" font-size="9.8" fill="#111" text-anchor="middle" textLength="10.2" lengthAdjust="spacingAndGlyphs" >61</text>
<text x="836.01" y="403.50" font-size="9.8" fill="#111" text-anchor="middle" textLength="10.2" lengthAdjust="spacingAndGlyphs" >61</text>
<text x="852.11" y="403.50" font-size="9.8" fill="#111" text-anchor="middle" textLength="10.2" lengthAdjust="spacingAndGlyphs" >61</text>
<text x="868.21" y="403.50" font-size="9.8" fill="#111" text-anchor="middle" textLength="10.2" lengthAdjust="spacingAndGlyphs" >61</text>
<text x="884.31" y="403.50" font-size="9.8" fill="#111" text-anchor="middle" textLength="10.2" lengthAdjust="spacingAndGlyphs" >61</text>
<text x="964.81" y="403.50" font-size="9.8" fill="#111" text-anchor="middle" textLength="10.2" lengthAdjust="spacingAndGlyphs" >61</text>
<text x="980.91" y="403.50" font-size="9.8" fill="#111" text-anchor="middle" textLength="10.2" lengthAdjust="spacingAndGlyphs" >61</text>
<text x="997.01" y="403.50" font-size="9.8" fill="#111" text-anchor="middle" textLength="10.2" lengthAdjust="spacingAndGlyphs" >61</text>
<text x="1013.11" y="403.50" font-size="9.8" fill="#111" text-anchor="middle" textLength="10.2" lengthAdjust="spacingAndGlyphs" >61</text>
<text x="61.25" y="425.00" font-size="13.5" fill="#4f72c8" text-anchor="start" textLength="38.75" lengthAdjust="spacingAndGlyphs" >Regen</text>
<text x="62.00" y="440.00" font-size="13.5" fill="#78b4f0" text-anchor="start" textLength="45.5" lengthAdjust="spacingAndGlyphs" >Schnee</text>
<text x="1030.50" y="424.50" font-size="13.5" fill="#808080" text-anchor="end" textLength="91.25" lengthAdjust="spacingAndGlyphs" >- Niederschlag</text>
<text x="1030.50" y="439.00" font-size="13.5" fill="#ff0000" text-anchor="end" textLength="62.5" lengthAdjust="spacingAndGlyphs" >- Gewitter</text>
<text x="56.00" y="414.65" font-size="11" fill="#111" text-anchor="end" textLength="10.0" lengthAdjust="spacingAndGlyphs" >18</text>
<text x="56.00" y="445.85" font-size="11" fill="#111" text-anchor="end" textLength="10.0" lengthAdjust="spacingAndGlyphs" >12</text>
<text x="56.00" y="477.05" font-size="11" fill="#111" text-anchor="end" textLength="5.0" lengthAdjust="spacingAndGlyphs" >6</text>
<text x="56.00" y="508.25" font-size="11" fill="#111" text-anchor="end" textLength="5.0" lengthAdjust="spacingAndGlyphs" >0</text>
<text x="1041.00" y="383.50" font-size="11" fill="#111" text-anchor="start" textLength="16.200000000000003" lengthAdjust="spacingAndGlyphs" >100</text>
<text x="1041.00" y="414.69" font-size="11" fill="#111" text-anchor="start" textLength="10.8" lengthAdjust="spacingAndGlyphs" >75</text>
<text x="1041.00" y="445.88" font-size="11" fill="#111" text-anchor="start" textLength="10.8" lengthAdjust="spacingAndGlyphs" >50</text>
<text x="1041.00" y="477.06" font-size="11" fill="#111" text-anchor="start" textLength="10.8" lengthAdjust="spacingAndGlyphs" >25</text>
<text x="1041.00" y="508.25" font-size="11" fill="#111" text-anchor="start" textLength="5.4" lengthAdjust="spacingAndGlyphs" >0</text>
<text x="71.24" y="516.50" font-size="11" fill="#111" text-anchor="middle" textLength="10.0" lengthAdjust="spacingAndGlyphs" >12</text>
<text x="103.44" y="516.50" font-size="11" fill="#111" text-anchor="middle" textLength="10.0" lengthAdjust="spacingAndGlyphs" >18</text>
<text x="135.64" y="516.50" font-size="11" fill="#111" text-anchor="middle" textLength="5.0" lengthAdjust="spacingAndGlyphs" >0</text>
<text x="167.84" y="516.50" font-size="11" fill="#111" text-anchor="middle" textLength="5.0" lengthAdjust="spacingAndGlyphs" >6</text>
<text x="200.04" y="516.50" font-size="11" fill="#111" text-anchor="middle" textLength="10.0" lengthAdjust="spacingAndGlyphs" >12</text>
<text x="232.24" y="516.50" font-size="11" fill="#111" text-anchor="middle" textLength="10.0" lengthAdjust="spacingAndGlyphs" >18</text>
<text x="264.44" y="516.50" font-size="11" fill="#111" text-anchor="middle" textLength="5.0" lengthAdjust="spacingAndGlyphs" >0</text>
<text x="296.64" y="516.50" font-size="11" fill="#111" text-anchor="middle" textLength="5.0" lengthAdjust="spacingAndGlyphs" >6</text>
<text x="328.84" y="516.50" font-size="11" fill="#111" text-anchor="middle" textLength="10.0" lengthAdjust="spacingAndGlyphs" >12</text>
<text x="361.05" y="516.50" font-size="11" fill="#111" text-anchor="middle" textLength="10.0" lengthAdjust="spacingAndGlyphs" >18</text>
<text x="393.25" y="516.50" font-size="11" fill="#111" text-anchor="middle" textLength="5.0" lengthAdjust="spacingAndGlyphs" >0</text>
<text x="425.45" y="516.50" font-size="11" fill="#111" text-anchor="middle" textLength="5.0" lengthAdjust="spacingAndGlyphs" >6</text>
<text x="457.65" y="516.50" font-size="11" fill="#111" text-anchor="middle" textLength="10.0" lengthAdjust="spacingAndGlyphs" >12</text>
<text x="489.85" y="516.50" font-size="11" fill="#111" text-anchor="middle" textLength="10.0" lengthAdjust="spacingAndGlyphs" >18</text>
<text x="522.05" y="516.50" font-size="11" fill="#111" text-anchor="middle" textLength="5.0" lengthAdjust="spacingAndGlyphs" >0</text>
<text x="554.25" y="516.50" font-size="11" fill="#111" text-anchor="middle" textLength="5.0" lengthAdjust="spacingAndGlyphs" >6</text>
<text x="586.45" y="516.50" font-size="11" fill="#111" text-anchor="middle" textLength="10.0" lengthAdjust="spacingAndGlyphs" >12</text>
<text x="618.65" y="516.50" font-size="11" fill="#111" text-anchor="middle" textLength="10.0" lengthAdjust="spacingAndGlyphs" >18</text>
<text x="650.85" y="516.50" font-size="11" fill="#111" text-anchor="middle" textLength="5.0" lengthAdjust="spacingAndGlyphs" >0</text>
<text x="683.05" y="516.50" font-size="11" fill="#111" text-anchor="middle" textLength="5.0" lengthAdjust="spacingAndGlyphs" >6</text>
<text x="715.25" y="516.50" font-size="11" fill="#111" text-anchor="middle" textLength="10.0" lengthAdjust="spacingAndGlyphs" >12</text>
<text x="747.46" y="516.50" font-size="11" fill="#111" text-anchor="middle" textLength="10.0" lengthAdjust="spacingAndGlyphs" >18</text>
<text x="779.66" y="516.50" font-size="11" fill="#111" text-anchor="middle" textLength="5.0" lengthAdjust="spacingAndGlyphs" >0</text>
<text x="811.86" y="516.50" font-size="11" fill="#111" text-anchor="middle" textLength="5.0" lengthAdjust="spacingAndGlyphs" >6</text>
<text x="844.06" y="516.50" font-size="11" fill="#111" text-anchor="middle" textLength="10.0" lengthAdjust="spacingAndGlyphs" >12</text>
<text x="876.26" y="516.50" font-size="11" fill="#111" text-anchor="middle" textLength="10.0" lengthAdjust="spacingAndGlyphs" >18</text>
<text x="908.46" y="516.50" font-size="11" fill="#111" text-anchor="middle" textLength="5.0" lengthAdjust="spacingAndGlyphs" >0</text>
<text x="940.66" y="516.50" font-size="11" fill="#111" text-anchor="middle" textLength="5.0" lengthAdjust="spacingAndGlyphs" >6</text>
<text x="972.86" y="516.50" font-size="11" fill="#111" text-anchor="middle" textLength="10.0" lengthAdjust="spacingAndGlyphs" >12</text>
<text x="1005.06" y="516.50" font-size="11" fill="#111" text-anchor="middle" textLength="10.0" lengthAdjust="spacingAndGlyphs" >18</text>
<text x="1037.26" y="516.50" font-size="11" fill="#111" text-anchor="middle" textLength="5.0" lengthAdjust="spacingAndGlyphs" >0</text>
<line x1="60.50" y1="601.10" x2="1037.25" y2="601.10" stroke="#f08c00" stroke-width="1.0" />
<polygon points="165.00,602.00 170.00,596.25 175.00,577.50 186.25,558.25 192.50,555.75 200.00,554.25 202.50,554.25 208.75,560.75 213.75,572.50 218.75,598.75 222.50,602.00" fill="#ffa000" stroke="#f08c00" stroke-width="1.1" />
<polygon points="293.25,602.00 298.25,593.75 304.50,572.50 309.50,558.75 315.75,551.25 320.75,551.25 327.00,547.50 332.00,547.50 338.25,553.75 343.25,566.25 348.25,595.00 353.25,602.00" fill="#ffa000" stroke="#f08c00" stroke-width="1.1" />
<polygon points="422.00,602.00 428.25,593.75 433.25,578.75 438.25,571.25 444.50,566.25 455.75,569.50 465.75,580.00 472.00,591.25 476.50,602.00" fill="#ffa000" stroke="#f08c00" stroke-width="1.1" />
<polygon points="556.50,602.00 567.75,585.50 584.00,581.25 595.25,585.50 600.25,590.00 605.25,602.00" fill="#ffa000" stroke="#f08c00" stroke-width="1.1" />
<polygon points="680.25,602.00 685.25,597.00 695.25,567.50 701.50,561.25 707.75,559.25 714.00,561.25 722.75,569.50 729.00,578.75 735.25,598.75 739.00,602.00" fill="#ffa000" stroke="#f08c00" stroke-width="1.1" />
<polygon points="809.00,602.00 816.00,590.00 824.75,571.25 836.00,562.50 846.00,565.00 852.25,571.25 858.50,582.50 863.50,600.00 868.50,602.00" fill="#ffa000" stroke="#f08c00" stroke-width="1.1" />
<polygon points="938.50,602.00 943.50,598.00 952.25,576.25 959.75,565.00 969.75,562.50 981.00,571.25 988.50,586.25 992.25,602.00" fill="#ffa000" stroke="#f08c00" stroke-width="1.1" />
<line x1="71.24" y1="520.50" x2="71.24" y2="602.00" stroke="#b0b0b0" stroke-width="1" />
<line x1="103.44" y1="520.50" x2="103.44" y2="602.00" stroke="#b0b0b0" stroke-width="1" />
<line x1="167.84" y1="520.50" x2="167.84" y2="602.00" stroke="#b0b0b0" stroke-width="1" />
<line x1="200.04" y1="520.50" x2="200.04" y2="602.00" stroke="#b0b0b0" stroke-width="1" />
<line x1="232.24" y1="520.50" x2="232.24" y2="602.00" stroke="#b0b0b0" stroke-width="1" />
<line x1="296.64" y1="520.50" x2="296.64" y2="602.00" stroke="#b0b0b0" stroke-width="1" />
<line x1="328.84" y1="520.50" x2="328.84" y2="602.00" stroke="#b0b0b0" stroke-width="1" />
<line x1="361.05" y1="520.50" x2="361.05" y2="602.00" stroke="#b0b0b0" stroke-width="1" />
<line x1="425.45" y1="520.50" x2="425.45" y2="602.00" stroke="#b0b0b0" stroke-width="1" />
<line x1="457.65" y1="520.50" x2="457.65" y2="602.00" stroke="#b0b0b0" stroke-width="1" />
<line x1="489.85" y1="520.50" x2="489.85" y2="602.00" stroke="#b0b0b0" stroke-width="1" />
<line x1="554.25" y1="520.50" x2="554.25" y2="602.00" stroke="#b0b0b0" stroke-width="1" />
<line x1="586.45" y1="520.50" x2="586.45" y2="602.00" stroke="#b0b0b0" stroke-width="1" />
<line x1="618.65" y1="520.50" x2="618.65" y2="602.00" stroke="#b0b0b0" stroke-width="1" />
<line x1="683.05" y1="520.50" x2="683.05" y2="602.00" stroke="#b0b0b0" stroke-width="1" />
<line x1="715.25" y1="520.50" x2="715.25" y2="602.00" stroke="#b0b0b0" stroke-width="1" />
<line x1="747.46" y1="520.50" x2="747.46" y2="602.00" stroke="#b0b0b0" stroke-width="1" />
<line x1="811.86" y1="520.50" x2="811.86" y2="602.00" stroke="#b0b0b0" stroke-width="1" />
<line x1="844.06" y1="520.50" x2="844.06" y2="602.00" stroke="#b0b0b0" stroke-width="1" />
<line x1="876.26" y1="520.50" x2="876.26" y2="602.00" stroke="#b0b0b0" stroke-width="1" />
<line x1="940.66" y1="520.50" x2="940.66" y2="602.00" stroke="#b0b0b0" stroke-width="1" />
<line x1="972.86" y1="520.50" x2="972.86" y2="602.00" stroke="#b0b0b0" stroke-width="1" />
<line x1="1005.06" y1="520.50" x2="1005.06" y2="602.00" stroke="#b0b0b0" stroke-width="1" />
<line x1="135.64" y1="520.50" x2="135.64" y2="602.00" stroke="#222" stroke-width="1.5" />
<line x1="264.44" y1="520.50" x2="264.44" y2="602.00" stroke="#222" stroke-width="1.5" />
<line x1="393.25" y1="520.50" x2="393.25" y2="602.00" stroke="#222" stroke-width="1.5" />
<line x1="522.05" y1="520.50" x2="522.05" y2="602.00" stroke="#222" stroke-width="1.5" />
<line x1="650.85" y1="520.50" x2="650.85" y2="602.00" stroke="#222" stroke-width="1.5" />
<line x1="779.66" y1="520.50" x2="779.66" y2="602.00" stroke="#222" stroke-width="1.5" />
<line x1="908.46" y1="520.50" x2="908.46" y2="602.00" stroke="#222" stroke-width="1.5" />
<polyline points="71.25,595.75 87.00,588.25 103.00,573.75 119.25,570.75 135.25,565.50 151.25,564.50 489.50,564.50 505.75,562.50 522.00,558.25 538.25,554.50 544.00,551.25 554.50,546.00 1037.25,546.00" fill="none" stroke="#0000ff" stroke-width="2.1" stroke-linejoin="round" stroke-linecap="butt" />
<circle cx="168.25" cy="564.5" r="2.7" fill="#0000ff"/>
<text x="169.85" y="559.50" font-size="14" fill="#0000ff" text-anchor="middle" textLength="13.5" lengthAdjust="spacingAndGlyphs" >39</text>
<circle cx="296.25" cy="564.5" r="2.7" fill="#0000ff"/>
<text x="297.85" y="559.50" font-size="14" fill="#0000ff" text-anchor="middle" textLength="13.5" lengthAdjust="spacingAndGlyphs" >39</text>
<circle cx="425.25" cy="564.5" r="2.7" fill="#0000ff"/>
<text x="426.85" y="559.50" font-size="14" fill="#0000ff" text-anchor="middle" textLength="13.5" lengthAdjust="spacingAndGlyphs" >39</text>
<circle cx="554.5" cy="546" r="2.7" fill="#0000ff"/>
<text x="556.10" y="541.00" font-size="14" fill="#0000ff" text-anchor="middle" textLength="13.5" lengthAdjust="spacingAndGlyphs" >59</text>
<circle cx="683.5" cy="546" r="2.7" fill="#0000ff"/>
<text x="685.10" y="541.00" font-size="14" fill="#0000ff" text-anchor="middle" textLength="13.5" lengthAdjust="spacingAndGlyphs" >59</text>
<circle cx="811" cy="546" r="2.7" fill="#0000ff"/>
<text x="812.60" y="541.00" font-size="14" fill="#0000ff" text-anchor="middle" textLength="13.5" lengthAdjust="spacingAndGlyphs" >59</text>
<circle cx="940.25" cy="546" r="2.7" fill="#0000ff"/>
<text x="941.85" y="541.00" font-size="14" fill="#0000ff" text-anchor="middle" textLength="13.5" lengthAdjust="spacingAndGlyphs" >59</text>
<rect x="60.5" y="520.5" width="976.75" height="81.5" fill="none" stroke="#111" stroke-width="1.15"/>
<text x="65" y="536" font-size="19" fill="#000">Σ</text>
<text x="184.25" y="535.00" font-size="14.5" fill="#000" text-anchor="start" textLength="31.25" lengthAdjust="spacingAndGlyphs" >4.5 h</text>
<text x="234.25" y="534.00" font-size="12" fill="#888" text-anchor="start" textLength="26.75" lengthAdjust="spacingAndGlyphs" >47 %</text>
<text x="312.50" y="535.00" font-size="14.5" fill="#000" text-anchor="start" textLength="31.25" lengthAdjust="spacingAndGlyphs" >5.2 h</text>
<text x="363.25" y="534.00" font-size="12" fill="#888" text-anchor="start" textLength="26.75" lengthAdjust="spacingAndGlyphs" >54 %</text>
<text x="441.50" y="535.00" font-size="14.5" fill="#000" text-anchor="start" textLength="31.25" lengthAdjust="spacingAndGlyphs" >2.6 h</text>
<text x="492.00" y="534.00" font-size="12" fill="#888" text-anchor="start" textLength="26.75" lengthAdjust="spacingAndGlyphs" >27 %</text>
<text x="570.25" y="535.00" font-size="14.5" fill="#000" text-anchor="start" textLength="31.25" lengthAdjust="spacingAndGlyphs" >2.2 h</text>
<text x="621.00" y="534.00" font-size="12" fill="#888" text-anchor="start" textLength="26.75" lengthAdjust="spacingAndGlyphs" >23 %</text>
<text x="699.50" y="535.00" font-size="14.5" fill="#000" text-anchor="start" textLength="31.25" lengthAdjust="spacingAndGlyphs" >3.3 h</text>
<text x="749.50" y="534.00" font-size="12" fill="#888" text-anchor="start" textLength="26.75" lengthAdjust="spacingAndGlyphs" >35 %</text>
<text x="828.50" y="535.00" font-size="14.5" fill="#000" text-anchor="start" textLength="31.25" lengthAdjust="spacingAndGlyphs" >3.3 h</text>
<text x="878.50" y="534.00" font-size="12" fill="#888" text-anchor="start" textLength="26.75" lengthAdjust="spacingAndGlyphs" >34 %</text>
<text x="956.75" y="535.00" font-size="14.5" fill="#000" text-anchor="start" textLength="31.25" lengthAdjust="spacingAndGlyphs" >3.2 h</text>
<text x="1007.25" y="534.00" font-size="12" fill="#888" text-anchor="start" textLength="26.75" lengthAdjust="spacingAndGlyphs" >34 %</text>
<text x="56.00" y="524.50" font-size="11" fill="#111" text-anchor="end" textLength="15.0" lengthAdjust="spacingAndGlyphs" >100</text>
<text x="56.00" y="544.88" font-size="11" fill="#111" text-anchor="end" textLength="10.0" lengthAdjust="spacingAndGlyphs" >75</text>
<text x="56.00" y="565.25" font-size="11" fill="#111" text-anchor="end" textLength="10.0" lengthAdjust="spacingAndGlyphs" >50</text>
<text x="56.00" y="585.62" font-size="11" fill="#111" text-anchor="end" textLength="10.0" lengthAdjust="spacingAndGlyphs" >25</text>
<text x="56.00" y="606.00" font-size="11" fill="#111" text-anchor="end" textLength="5.0" lengthAdjust="spacingAndGlyphs" >0</text>
<line x1="1037.25" y1="602.00" x2="1041.25" y2="602.00" stroke="#111" stroke-width="1" />
<text x="1044.75" y="606.00" font-size="11" fill="#111" text-anchor="start" >0</text>
<line x1="1037.25" y1="578.00" x2="1041.25" y2="578.00" stroke="#111" stroke-width="1" />
<text x="1044.75" y="582.00" font-size="11" fill="#111" text-anchor="start" >25</text>
<line x1="1037.25" y1="554.00" x2="1041.25" y2="554.00" stroke="#111" stroke-width="1" />
<text x="1044.75" y="558.00" font-size="11" fill="#111" text-anchor="start" >50</text>
<line x1="1037.25" y1="530.00" x2="1041.25" y2="530.00" stroke="#111" stroke-width="1" />
<text x="1044.75" y="534.00" font-size="11" fill="#111" text-anchor="start" >75</text>
<text x="71.24" y="614.00" font-size="11" fill="#111" text-anchor="middle" textLength="10.0" lengthAdjust="spacingAndGlyphs" >12</text>
<text x="103.44" y="614.00" font-size="11" fill="#111" text-anchor="middle" textLength="10.0" lengthAdjust="spacingAndGlyphs" >18</text>
<text x="135.64" y="614.00" font-size="11" fill="#111" text-anchor="middle" textLength="5.0" lengthAdjust="spacingAndGlyphs" >0</text>
<text x="167.84" y="614.00" font-size="11" fill="#111" text-anchor="middle" textLength="5.0" lengthAdjust="spacingAndGlyphs" >6</text>
<text x="200.04" y="614.00" font-size="11" fill="#111" text-anchor="middle" textLength="10.0" lengthAdjust="spacingAndGlyphs" >12</text>
<text x="232.24" y="614.00" font-size="11" fill="#111" text-anchor="middle" textLength="10.0" lengthAdjust="spacingAndGlyphs" >18</text>
<text x="264.44" y="614.00" font-size="11" fill="#111" text-anchor="middle" textLength="5.0" lengthAdjust="spacingAndGlyphs" >0</text>
<text x="296.64" y="614.00" font-size="11" fill="#111" text-anchor="middle" textLength="5.0" lengthAdjust="spacingAndGlyphs" >6</text>
<text x="328.84" y="614.00" font-size="11" fill="#111" text-anchor="middle" textLength="10.0" lengthAdjust="spacingAndGlyphs" >12</text>
<text x="361.05" y="614.00" font-size="11" fill="#111" text-anchor="middle" textLength="10.0" lengthAdjust="spacingAndGlyphs" >18</text>
<text x="393.25" y="614.00" font-size="11" fill="#111" text-anchor="middle" textLength="5.0" lengthAdjust="spacingAndGlyphs" >0</text>
<text x="425.45" y="614.00" font-size="11" fill="#111" text-anchor="middle" textLength="5.0" lengthAdjust="spacingAndGlyphs" >6</text>
<text x="457.65" y="614.00" font-size="11" fill="#111" text-anchor="middle" textLength="10.0" lengthAdjust="spacingAndGlyphs" >12</text>
<text x="489.85" y="614.00" font-size="11" fill="#111" text-anchor="middle" textLength="10.0" lengthAdjust="spacingAndGlyphs" >18</text>
<text x="522.05" y="614.00" font-size="11" fill="#111" text-anchor="middle" textLength="5.0" lengthAdjust="spacingAndGlyphs" >0</text>
<text x="554.25" y="614.00" font-size="11" fill="#111" text-anchor="middle" textLength="5.0" lengthAdjust="spacingAndGlyphs" >6</text>
<text x="586.45" y="614.00" font-size="11" fill="#111" text-anchor="middle" textLength="10.0" lengthAdjust="spacingAndGlyphs" >12</text>
<text x="618.65" y="614.00" font-size="11" fill="#111" text-anchor="middle" textLength="10.0" lengthAdjust="spacingAndGlyphs" >18</text>
<text x="650.85" y="614.00" font-size="11" fill="#111" text-anchor="middle" textLength="5.0" lengthAdjust="spacingAndGlyphs" >0</text>
<text x="683.05" y="614.00" font-size="11" fill="#111" text-anchor="middle" textLength="5.0" lengthAdjust="spacingAndGlyphs" >6</text>
<text x="715.25" y="614.00" font-size="11" fill="#111" text-anchor="middle" textLength="10.0" lengthAdjust="spacingAndGlyphs" >12</text>
<text x="747.46" y="614.00" font-size="11" fill="#111" text-anchor="middle" textLength="10.0" lengthAdjust="spacingAndGlyphs" >18</text>
<text x="779.66" y="614.00" font-size="11" fill="#111" text-anchor="middle" textLength="5.0" lengthAdjust="spacingAndGlyphs" >0</text>
<text x="811.86" y="614.00" font-size="11" fill="#111" text-anchor="middle" textLength="5.0" lengthAdjust="spacingAndGlyphs" >6</text>
<text x="844.06" y="614.00" font-size="11" fill="#111" text-anchor="middle" textLength="10.0" lengthAdjust="spacingAndGlyphs" >12</text>
<text x="876.26" y="614.00" font-size="11" fill="#111" text-anchor="middle" textLength="10.0" lengthAdjust="spacingAndGlyphs" >18</text>
<text x="908.46" y="614.00" font-size="11" fill="#111" text-anchor="middle" textLength="5.0" lengthAdjust="spacingAndGlyphs" >0</text>
<text x="940.66" y="614.00" font-size="11" fill="#111" text-anchor="middle" textLength="5.0" lengthAdjust="spacingAndGlyphs" >6</text>
<text x="972.86" y="614.00" font-size="11" fill="#111" text-anchor="middle" textLength="10.0" lengthAdjust="spacingAndGlyphs" >12</text>
<text x="1005.06" y="614.00" font-size="11" fill="#111" text-anchor="middle" textLength="10.0" lengthAdjust="spacingAndGlyphs" >18</text>
<text x="1037.26" y="614.00" font-size="11" fill="#111" text-anchor="middle" textLength="5.0" lengthAdjust="spacingAndGlyphs" >0</text>
<rect x="60.50" y="618.0" width="5.97" height="17.30" fill="#8c8c8c"/>
<rect x="65.87" y="618.0" width="5.97" height="17.30" fill="#727272"/>
<rect x="71.24" y="618.0" width="5.97" height="17.30" fill="#8c8c8c"/>
<rect x="76.61" y="618.0" width="5.97" height="17.30" fill="#a6a6a6"/>
<rect x="81.97" y="618.0" width="5.97" height="17.30" fill="#c0c0c0"/>
<rect x="87.34" y="618.0" width="5.97" height="17.30" fill="#d6d6d6"/>
<rect x="92.71" y="618.0" width="5.97" height="17.30" fill="#dcf0fa"/>
<rect x="98.07" y="618.0" width="27.43" height="17.30" fill="#b4d7f8"/>
<rect x="124.91" y="618.0" width="54.27" height="17.30" fill="#7fb9ec"/>
<rect x="178.57" y="618.0" width="48.90" height="17.30" fill="#b4d7f8"/>
<rect x="226.88" y="618.0" width="86.47" height="17.30" fill="#7fb9ec"/>
<rect x="312.74" y="618.0" width="22.07" height="17.30" fill="#b4d7f8"/>
<rect x="334.21" y="618.0" width="32.80" height="17.30" fill="#7fb9ec"/>
<rect x="366.41" y="618.0" width="32.80" height="17.30" fill="#b4d7f8"/>
<rect x="398.61" y="618.0" width="11.33" height="17.30" fill="#7fb9ec"/>
<rect x="409.35" y="618.0" width="5.97" height="17.30" fill="#b4d7f8"/>
<rect x="414.71" y="618.0" width="5.97" height="17.30" fill="#dcf0fa"/>
<rect x="420.08" y="618.0" width="5.97" height="17.30" fill="#ebebeb"/>
<rect x="425.45" y="618.0" width="5.97" height="17.30" fill="#d6d6d6"/>
<rect x="430.81" y="618.0" width="5.97" height="17.30" fill="#c0c0c0"/>
<rect x="436.18" y="618.0" width="27.43" height="17.30" fill="#a6a6a6"/>
<rect x="463.01" y="618.0" width="22.07" height="17.30" fill="#8c8c8c"/>
<rect x="484.48" y="618.0" width="22.07" height="17.30" fill="#a6a6a6"/>
<rect x="505.95" y="618.0" width="32.80" height="17.30" fill="#8c8c8c"/>
<rect x="538.15" y="618.0" width="48.90" height="17.30" fill="#727272"/>
<rect x="586.45" y="618.0" width="32.80" height="17.30" fill="#8c8c8c"/>
<rect x="618.65" y="618.0" width="5.97" height="17.30" fill="#a6a6a6"/>
<rect x="624.02" y="618.0" width="5.97" height="17.30" fill="#c0c0c0"/>
<rect x="629.39" y="618.0" width="5.97" height="17.30" fill="#d6d6d6"/>
<rect x="634.75" y="618.0" width="5.97" height="17.30" fill="#ebebeb"/>
<rect x="640.12" y="618.0" width="5.97" height="17.30" fill="#b4d7f8"/>
<rect x="645.49" y="618.0" width="43.53" height="17.30" fill="#7fb9ec"/>
<rect x="688.42" y="618.0" width="59.63" height="17.30" fill="#b4d7f8"/>
<rect x="747.46" y="618.0" width="11.33" height="17.30" fill="#dcf0fa"/>
<rect x="758.19" y="618.0" width="11.33" height="17.30" fill="#ebebeb"/>
<rect x="768.92" y="618.0" width="22.07" height="17.30" fill="#d6d6d6"/>
<rect x="790.39" y="618.0" width="16.70" height="17.30" fill="#c0c0c0"/>
<rect x="806.49" y="618.0" width="5.97" height="17.30" fill="#a6a6a6"/>
<rect x="811.86" y="618.0" width="16.70" height="17.30" fill="#c0c0c0"/>
<rect x="827.96" y="618.0" width="5.97" height="17.30" fill="#d6d6d6"/>
<rect x="833.32" y="618.0" width="11.33" height="17.30" fill="#ebebeb"/>
<rect x="844.06" y="618.0" width="16.70" height="17.30" fill="#dcf0fa"/>
<rect x="860.16" y="618.0" width="16.70" height="17.30" fill="#b4d7f8"/>
<rect x="876.26" y="618.0" width="11.33" height="17.30" fill="#dcf0fa"/>
<rect x="886.99" y="618.0" width="5.97" height="17.30" fill="#ebebeb"/>
<rect x="892.36" y="618.0" width="11.33" height="17.30" fill="#d6d6d6"/>
<rect x="903.09" y="618.0" width="5.97" height="17.30" fill="#c0c0c0"/>
<rect x="908.46" y="618.0" width="27.43" height="17.30" fill="#d6d6d6"/>
<rect x="935.29" y="618.0" width="22.07" height="17.30" fill="#ebebeb"/>
<rect x="956.76" y="618.0" width="32.80" height="17.30" fill="#dcf0fa"/>
<rect x="988.96" y="618.0" width="11.33" height="17.30" fill="#ebebeb"/>
<rect x="999.69" y="618.0" width="27.43" height="17.30" fill="#d6d6d6"/>
<rect x="1026.53" y="618.0" width="10.72" height="17.30" fill="#c0c0c0"/>
<rect x="60.50" y="634.9" width="5.97" height="16.40" fill="#a6a6a6"/>
<rect x="65.87" y="634.9" width="11.33" height="16.40" fill="#8c8c8c"/>
<rect x="76.61" y="634.9" width="11.33" height="16.40" fill="#727272"/>
<rect x="87.34" y="634.9" width="5.97" height="16.40" fill="#8c8c8c"/>
<rect x="92.71" y="634.9" width="11.33" height="16.40" fill="#a6a6a6"/>
<rect x="103.44" y="634.9" width="5.97" height="16.40" fill="#c0c0c0"/>
<rect x="108.81" y="634.9" width="5.97" height="16.40" fill="#d6d6d6"/>
<rect x="114.17" y="634.9" width="16.70" height="16.40" fill="#ebebeb"/>
<rect x="130.27" y="634.9" width="5.97" height="16.40" fill="#dcf0fa"/>
<rect x="135.64" y="634.9" width="27.43" height="16.40" fill="#ebebeb"/>
<rect x="162.47" y="634.9" width="27.43" height="16.40" fill="#dcf0fa"/>
<rect x="189.31" y="634.9" width="75.74" height="16.40" fill="#b4d7f8"/>
<rect x="264.44" y="634.9" width="59.63" height="16.40" fill="#dcf0fa"/>
<rect x="323.48" y="634.9" width="16.70" height="16.40" fill="#b4d7f8"/>
<rect x="339.58" y="634.9" width="5.97" height="16.40" fill="#dcf0fa"/>
<rect x="344.95" y="634.9" width="27.43" height="16.40" fill="#b4d7f8"/>
<rect x="371.78" y="634.9" width="38.17" height="16.40" fill="#dcf0fa"/>
<rect x="409.35" y="634.9" width="27.43" height="16.40" fill="#ebebeb"/>
<rect x="436.18" y="634.9" width="32.80" height="16.40" fill="#d6d6d6"/>
<rect x="468.38" y="634.9" width="5.97" height="16.40" fill="#c0c0c0"/>
<rect x="473.75" y="634.9" width="38.17" height="16.40" fill="#d6d6d6"/>
<rect x="511.32" y="634.9" width="16.70" height="16.40" fill="#c0c0c0"/>
<rect x="527.42" y="634.9" width="22.07" height="16.40" fill="#a6a6a6"/>
<rect x="548.88" y="634.9" width="11.33" height="16.40" fill="#8c8c8c"/>
<rect x="559.62" y="634.9" width="22.07" height="16.40" fill="#a6a6a6"/>
<rect x="581.08" y="634.9" width="22.07" height="16.40" fill="#c0c0c0"/>
<rect x="602.55" y="634.9" width="38.17" height="16.40" fill="#d6d6d6"/>
<rect x="640.12" y="634.9" width="11.33" height="16.40" fill="#c0c0c0"/>
<rect x="650.85" y="634.9" width="11.33" height="16.40" fill="#d6d6d6"/>
<rect x="661.59" y="634.9" width="11.33" height="16.40" fill="#ebebeb"/>
<rect x="672.32" y="634.9" width="32.80" height="16.40" fill="#d6d6d6"/>
<rect x="704.52" y="634.9" width="54.27" height="16.40" fill="#ebebeb"/>
<rect x="758.19" y="634.9" width="11.33" height="16.40" fill="#d6d6d6"/>
<rect x="768.92" y="634.9" width="32.80" height="16.40" fill="#ebebeb"/>
<rect x="801.12" y="634.9" width="16.70" height="16.40" fill="#d6d6d6"/>
<rect x="817.22" y="634.9" width="16.70" height="16.40" fill="#c0c0c0"/>
<rect x="833.32" y="634.9" width="75.74" height="16.40" fill="#d6d6d6"/>
<rect x="908.46" y="634.9" width="5.97" height="16.40" fill="#ebebeb"/>
<rect x="913.83" y="634.9" width="5.97" height="16.40" fill="#dcf0fa"/>
<rect x="919.19" y="634.9" width="5.97" height="16.40" fill="#b4d7f8"/>
<rect x="924.56" y="634.9" width="11.33" height="16.40" fill="#dcf0fa"/>
<rect x="935.29" y="634.9" width="75.74" height="16.40" fill="#ebebeb"/>
<rect x="1010.43" y="634.9" width="16.70" height="16.40" fill="#dcf0fa"/>
<rect x="1026.53" y="634.9" width="10.72" height="16.40" fill="#ebebeb"/>
<rect x="60.50" y="650.9" width="22.07" height="14.80" fill="#c0c0c0"/>
<rect x="81.97" y="650.9" width="5.97" height="14.80" fill="#a6a6a6"/>
<rect x="87.34" y="650.9" width="43.53" height="14.80" fill="#c0c0c0"/>
<rect x="130.27" y="650.9" width="16.70" height="14.80" fill="#d6d6d6"/>
<rect x="146.37" y="650.9" width="81.10" height="14.80" fill="#ebebeb"/>
<rect x="226.88" y="650.9" width="75.74" height="14.80" fill="#dcf0fa"/>
<rect x="302.01" y="650.9" width="32.80" height="14.80" fill="#ebebeb"/>
<rect x="334.21" y="650.9" width="81.10" height="14.80" fill="#dcf0fa"/>
<rect x="414.71" y="650.9" width="32.80" height="14.80" fill="#ebebeb"/>
<rect x="446.91" y="650.9" width="91.84" height="14.80" fill="#d6d6d6"/>
<rect x="538.15" y="650.9" width="27.43" height="14.80" fill="#c0c0c0"/>
<rect x="564.98" y="650.9" width="166.97" height="14.80" fill="#d6d6d6"/>
<rect x="731.35" y="650.9" width="65.00" height="14.80" fill="#ebebeb"/>
<rect x="795.76" y="650.9" width="65.00" height="14.80" fill="#d6d6d6"/>
<rect x="860.16" y="650.9" width="43.53" height="14.80" fill="#ebebeb"/>
<rect x="903.09" y="650.9" width="134.16" height="14.80" fill="#d6d6d6"/>
<text x="71.24" y="629.30" font-size="10.5" fill="#333" text-anchor="middle" textLength="5.2" lengthAdjust="spacingAndGlyphs" >8</text>
<text x="87.34" y="629.30" font-size="10.5" fill="#333" text-anchor="middle" textLength="5.2" lengthAdjust="spacingAndGlyphs" >5</text>
<text x="103.44" y="629.30" font-size="10.5" fill="#333" text-anchor="middle" textLength="5.2" lengthAdjust="spacingAndGlyphs" >1</text>
<text x="119.54" y="629.30" font-size="10.5" fill="#333" text-anchor="middle" textLength="5.2" lengthAdjust="spacingAndGlyphs" >1</text>
<text x="135.64" y="629.30" font-size="10.5" fill="#333" text-anchor="middle" textLength="5.2" lengthAdjust="spacingAndGlyphs" >0</text>
<text x="151.74" y="629.30" font-size="10.5" fill="#333" text-anchor="middle" textLength="5.2" lengthAdjust="spacingAndGlyphs" >0</text>
<text x="167.84" y="629.30" font-size="10.5" fill="#333" text-anchor="middle" textLength="5.2" lengthAdjust="spacingAndGlyphs" >0</text>
<text x="183.94" y="629.30" font-size="10.5" fill="#333" text-anchor="middle" textLength="5.2" lengthAdjust="spacingAndGlyphs" >1</text>
<text x="200.04" y="629.30" font-size="10.5" fill="#333" text-anchor="middle" textLength="5.2" lengthAdjust="spacingAndGlyphs" >1</text>
<text x="216.14" y="629.30" font-size="10.5" fill="#333" text-anchor="middle" textLength="5.2" lengthAdjust="spacingAndGlyphs" >1</text>
<text x="232.24" y="629.30" font-size="10.5" fill="#333" text-anchor="middle" textLength="5.2" lengthAdjust="spacingAndGlyphs" >0</text>
<text x="248.34" y="629.30" font-size="10.5" fill="#333" text-anchor="middle" textLength="5.2" lengthAdjust="spacingAndGlyphs" >0</text>
<text x="264.44" y="629.30" font-size="10.5" fill="#333" text-anchor="middle" textLength="5.2" lengthAdjust="spacingAndGlyphs" >0</text>
<text x="280.54" y="629.30" font-size="10.5" fill="#333" text-anchor="middle" textLength="5.2" lengthAdjust="spacingAndGlyphs" >0</text>
<text x="296.64" y="629.30" font-size="10.5" fill="#333" text-anchor="middle" textLength="5.2" lengthAdjust="spacingAndGlyphs" >0</text>
<text x="312.74" y="629.30" font-size="10.5" fill="#333" text-anchor="middle" textLength="5.2" lengthAdjust="spacingAndGlyphs" >0</text>
<text x="328.84" y="629.30" font-size="10.5" fill="#333" text-anchor="middle" textLength="5.2" lengthAdjust="spacingAndGlyphs" >1</text>
<text x="344.95" y="629.30" font-size="10.5" fill="#333" text-anchor="middle" textLength="5.2" lengthAdjust="spacingAndGlyphs" >0</text>
<text x="361.05" y="629.30" font-size="10.5" fill="#333" text-anchor="middle" textLength="5.2" lengthAdjust="spacingAndGlyphs" >0</text>
<text x="377.15" y="629.30" font-size="10.5" fill="#333" text-anchor="middle" textLength="5.2" lengthAdjust="spacingAndGlyphs" >1</text>
<text x="393.25" y="629.30" font-size="10.5" fill="#333" text-anchor="middle" textLength="5.2" lengthAdjust="spacingAndGlyphs" >1</text>
<text x="409.35" y="629.30" font-size="10.5" fill="#333" text-anchor="middle" textLength="5.2" lengthAdjust="spacingAndGlyphs" >0</text>
<text x="425.45" y="629.30" font-size="10.5" fill="#333" text-anchor="middle" textLength="5.2" lengthAdjust="spacingAndGlyphs" >3</text>
<text x="441.55" y="629.30" font-size="10.5" fill="#333" text-anchor="middle" textLength="5.2" lengthAdjust="spacingAndGlyphs" >6</text>
<text x="457.65" y="629.30" font-size="10.5" fill="#333" text-anchor="middle" textLength="5.2" lengthAdjust="spacingAndGlyphs" >6</text>
<text x="473.75" y="629.30" font-size="10.5" fill="#333" text-anchor="middle" textLength="5.2" lengthAdjust="spacingAndGlyphs" >7</text>
<text x="489.85" y="629.30" font-size="10.5" fill="#333" text-anchor="middle" textLength="5.2" lengthAdjust="spacingAndGlyphs" >6</text>
<text x="505.95" y="629.30" font-size="10.5" fill="#333" text-anchor="middle" textLength="5.2" lengthAdjust="spacingAndGlyphs" >6</text>
<text x="522.05" y="629.30" font-size="10.5" fill="#333" text-anchor="middle" textLength="5.2" lengthAdjust="spacingAndGlyphs" >7</text>
<text x="538.15" y="629.30" font-size="10.5" fill="#333" text-anchor="middle" textLength="5.2" lengthAdjust="spacingAndGlyphs" >7</text>
<text x="554.25" y="629.30" font-size="10.5" fill="#333" text-anchor="middle" textLength="5.2" lengthAdjust="spacingAndGlyphs" >8</text>
<text x="570.35" y="629.30" font-size="10.5" fill="#333" text-anchor="middle" textLength="5.2" lengthAdjust="spacingAndGlyphs" >8</text>
<text x="586.45" y="629.30" font-size="10.5" fill="#333" text-anchor="middle" textLength="5.2" lengthAdjust="spacingAndGlyphs" >8</text>
<text x="602.55" y="629.30" font-size="10.5" fill="#333" text-anchor="middle" textLength="5.2" lengthAdjust="spacingAndGlyphs" >7</text>
<text x="618.65" y="629.30" font-size="10.5" fill="#333" text-anchor="middle" textLength="5.2" lengthAdjust="spacingAndGlyphs" >7</text>
<text x="634.75" y="629.30" font-size="10.5" fill="#333" text-anchor="middle" textLength="5.2" lengthAdjust="spacingAndGlyphs" >4</text>
<text x="650.85" y="629.30" font-size="10.5" fill="#333" text-anchor="middle" textLength="5.2" lengthAdjust="spacingAndGlyphs" >0</text>
<text x="666.95" y="629.30" font-size="10.5" fill="#333" text-anchor="middle" textLength="5.2" lengthAdjust="spacingAndGlyphs" >0</text>
<text x="683.05" y="629.30" font-size="10.5" fill="#333" text-anchor="middle" textLength="5.2" lengthAdjust="spacingAndGlyphs" >0</text>
<text x="699.15" y="629.30" font-size="10.5" fill="#333" text-anchor="middle" textLength="5.2" lengthAdjust="spacingAndGlyphs" >1</text>
<text x="715.25" y="629.30" font-size="10.5" fill="#333" text-anchor="middle" textLength="5.2" lengthAdjust="spacingAndGlyphs" >1</text>
<text x="731.35" y="629.30" font-size="10.5" fill="#333" text-anchor="middle" textLength="5.2" lengthAdjust="spacingAndGlyphs" >1</text>
<text x="747.46" y="629.30" font-size="10.5" fill="#333" text-anchor="middle" textLength="5.2" lengthAdjust="spacingAndGlyphs" >1</text>
<text x="763.56" y="629.30" font-size="10.5" fill="#333" text-anchor="middle" textLength="5.2" lengthAdjust="spacingAndGlyphs" >3</text>
<text x="779.66" y="629.30" font-size="10.5" fill="#333" text-anchor="middle" textLength="5.2" lengthAdjust="spacingAndGlyphs" >4</text>
<text x="795.76" y="629.30" font-size="10.5" fill="#333" text-anchor="middle" textLength="5.2" lengthAdjust="spacingAndGlyphs" >5</text>
<text x="811.86" y="629.30" font-size="10.5" fill="#333" text-anchor="middle" textLength="5.2" lengthAdjust="spacingAndGlyphs" >6</text>
<text x="827.96" y="629.30" font-size="10.5" fill="#333" text-anchor="middle" textLength="5.2" lengthAdjust="spacingAndGlyphs" >5</text>
<text x="844.06" y="629.30" font-size="10.5" fill="#333" text-anchor="middle" textLength="5.2" lengthAdjust="spacingAndGlyphs" >3</text>
<text x="860.16" y="629.30" font-size="10.5" fill="#333" text-anchor="middle" textLength="5.2" lengthAdjust="spacingAndGlyphs" >2</text>
<text x="876.26" y="629.30" font-size="10.5" fill="#333" text-anchor="middle" textLength="5.2" lengthAdjust="spacingAndGlyphs" >1</text>
<text x="892.36" y="629.30" font-size="10.5" fill="#333" text-anchor="middle" textLength="5.2" lengthAdjust="spacingAndGlyphs" >3</text>
<text x="908.46" y="629.30" font-size="10.5" fill="#333" text-anchor="middle" textLength="5.2" lengthAdjust="spacingAndGlyphs" >5</text>
<text x="924.56" y="629.30" font-size="10.5" fill="#333" text-anchor="middle" textLength="5.2" lengthAdjust="spacingAndGlyphs" >4</text>
<text x="940.66" y="629.30" font-size="10.5" fill="#333" text-anchor="middle" textLength="5.2" lengthAdjust="spacingAndGlyphs" >3</text>
<text x="956.76" y="629.30" font-size="10.5" fill="#333" text-anchor="middle" textLength="5.2" lengthAdjust="spacingAndGlyphs" >3</text>
<text x="972.86" y="629.30" font-size="10.5" fill="#333" text-anchor="middle" textLength="5.2" lengthAdjust="spacingAndGlyphs" >2</text>
<text x="988.96" y="629.30" font-size="10.5" fill="#333" text-anchor="middle" textLength="5.2" lengthAdjust="spacingAndGlyphs" >2</text>
<text x="1005.06" y="629.30" font-size="10.5" fill="#333" text-anchor="middle" textLength="5.2" lengthAdjust="spacingAndGlyphs" >4</text>
<text x="1021.16" y="629.30" font-size="10.5" fill="#333" text-anchor="middle" textLength="5.2" lengthAdjust="spacingAndGlyphs" >4</text>
<text x="71.24" y="645.10" font-size="10.5" fill="#333" text-anchor="middle" textLength="5.2" lengthAdjust="spacingAndGlyphs" >7</text>
<text x="87.34" y="645.10" font-size="10.5" fill="#333" text-anchor="middle" textLength="5.2" lengthAdjust="spacingAndGlyphs" >8</text>
<text x="103.44" y="645.10" font-size="10.5" fill="#333" text-anchor="middle" textLength="5.2" lengthAdjust="spacingAndGlyphs" >6</text>
<text x="119.54" y="645.10" font-size="10.5" fill="#333" text-anchor="middle" textLength="5.2" lengthAdjust="spacingAndGlyphs" >3</text>
<text x="135.64" y="645.10" font-size="10.5" fill="#333" text-anchor="middle" textLength="5.2" lengthAdjust="spacingAndGlyphs" >2</text>
<text x="151.74" y="645.10" font-size="10.5" fill="#333" text-anchor="middle" textLength="5.2" lengthAdjust="spacingAndGlyphs" >3</text>
<text x="167.84" y="645.10" font-size="10.5" fill="#333" text-anchor="middle" textLength="5.2" lengthAdjust="spacingAndGlyphs" >2</text>
<text x="183.94" y="645.10" font-size="10.5" fill="#333" text-anchor="middle" textLength="5.2" lengthAdjust="spacingAndGlyphs" >2</text>
<text x="200.04" y="645.10" font-size="10.5" fill="#333" text-anchor="middle" textLength="5.2" lengthAdjust="spacingAndGlyphs" >1</text>
<text x="216.14" y="645.10" font-size="10.5" fill="#333" text-anchor="middle" textLength="5.2" lengthAdjust="spacingAndGlyphs" >1</text>
<text x="232.24" y="645.10" font-size="10.5" fill="#333" text-anchor="middle" textLength="5.2" lengthAdjust="spacingAndGlyphs" >1</text>
<text x="248.34" y="645.10" font-size="10.5" fill="#333" text-anchor="middle" textLength="5.2" lengthAdjust="spacingAndGlyphs" >1</text>
<text x="264.44" y="645.10" font-size="10.5" fill="#333" text-anchor="middle" textLength="5.2" lengthAdjust="spacingAndGlyphs" >1</text>
<text x="280.54" y="645.10" font-size="10.5" fill="#333" text-anchor="middle" textLength="5.2" lengthAdjust="spacingAndGlyphs" >2</text>
<text x="296.64" y="645.10" font-size="10.5" fill="#333" text-anchor="middle" textLength="5.2" lengthAdjust="spacingAndGlyphs" >2</text>
<text x="312.74" y="645.10" font-size="10.5" fill="#333" text-anchor="middle" textLength="5.2" lengthAdjust="spacingAndGlyphs" >2</text>
<text x="328.84" y="645.10" font-size="10.5" fill="#333" text-anchor="middle" textLength="5.2" lengthAdjust="spacingAndGlyphs" >1</text>
<text x="344.95" y="645.10" font-size="10.5" fill="#333" text-anchor="middle" textLength="5.2" lengthAdjust="spacingAndGlyphs" >2</text>
<text x="361.05" y="645.10" font-size="10.5" fill="#333" text-anchor="middle" textLength="5.2" lengthAdjust="spacingAndGlyphs" >1</text>
<text x="377.15" y="645.10" font-size="10.5" fill="#333" text-anchor="middle" textLength="5.2" lengthAdjust="spacingAndGlyphs" >2</text>
<text x="393.25" y="645.10" font-size="10.5" fill="#333" text-anchor="middle" textLength="5.2" lengthAdjust="spacingAndGlyphs" >2</text>
<text x="409.35" y="645.10" font-size="10.5" fill="#333" text-anchor="middle" textLength="5.2" lengthAdjust="spacingAndGlyphs" >2</text>
<text x="425.45" y="645.10" font-size="10.5" fill="#333" text-anchor="middle" textLength="5.2" lengthAdjust="spacingAndGlyphs" >3</text>
<text x="441.55" y="645.10" font-size="10.5" fill="#333" text-anchor="middle" textLength="5.2" lengthAdjust="spacingAndGlyphs" >4</text>
<text x="457.65" y="645.10" font-size="10.5" fill="#333" text-anchor="middle" textLength="5.2" lengthAdjust="spacingAndGlyphs" >4</text>
<text x="473.75" y="645.10" font-size="10.5" fill="#333" text-anchor="middle" textLength="5.2" lengthAdjust="spacingAndGlyphs" >5</text>
<text x="489.85" y="645.10" font-size="10.5" fill="#333" text-anchor="middle" textLength="5.2" lengthAdjust="spacingAndGlyphs" >4</text>
<text x="505.95" y="645.10" font-size="10.5" fill="#333" text-anchor="middle" textLength="5.2" lengthAdjust="spacingAndGlyphs" >4</text>
<text x="522.05" y="645.10" font-size="10.5" fill="#333" text-anchor="middle" textLength="5.2" lengthAdjust="spacingAndGlyphs" >5</text>
<text x="538.15" y="645.10" font-size="10.5" fill="#333" text-anchor="middle" textLength="5.2" lengthAdjust="spacingAndGlyphs" >6</text>
<text x="554.25" y="645.10" font-size="10.5" fill="#333" text-anchor="middle" textLength="5.2" lengthAdjust="spacingAndGlyphs" >7</text>
<text x="570.35" y="645.10" font-size="10.5" fill="#333" text-anchor="middle" textLength="5.2" lengthAdjust="spacingAndGlyphs" >6</text>
<text x="586.45" y="645.10" font-size="10.5" fill="#333" text-anchor="middle" textLength="5.2" lengthAdjust="spacingAndGlyphs" >5</text>
<text x="602.55" y="645.10" font-size="10.5" fill="#333" text-anchor="middle" textLength="5.2" lengthAdjust="spacingAndGlyphs" >5</text>
<text x="618.65" y="645.10" font-size="10.5" fill="#333" text-anchor="middle" textLength="5.2" lengthAdjust="spacingAndGlyphs" >4</text>
<text x="634.75" y="645.10" font-size="10.5" fill="#333" text-anchor="middle" textLength="5.2" lengthAdjust="spacingAndGlyphs" >4</text>
<text x="650.85" y="645.10" font-size="10.5" fill="#333" text-anchor="middle" textLength="5.2" lengthAdjust="spacingAndGlyphs" >5</text>
<text x="666.95" y="645.10" font-size="10.5" fill="#333" text-anchor="middle" textLength="5.2" lengthAdjust="spacingAndGlyphs" >3</text>
<text x="683.05" y="645.10" font-size="10.5" fill="#333" text-anchor="middle" textLength="5.2" lengthAdjust="spacingAndGlyphs" >4</text>
<text x="699.15" y="645.10" font-size="10.5" fill="#333" text-anchor="middle" textLength="5.2" lengthAdjust="spacingAndGlyphs" >4</text>
<text x="715.25" y="645.10" font-size="10.5" fill="#333" text-anchor="middle" textLength="5.2" lengthAdjust="spacingAndGlyphs" >3</text>
<text x="731.35" y="645.10" font-size="10.5" fill="#333" text-anchor="middle" textLength="5.2" lengthAdjust="spacingAndGlyphs" >3</text>
<text x="747.46" y="645.10" font-size="10.5" fill="#333" text-anchor="middle" textLength="5.2" lengthAdjust="spacingAndGlyphs" >3</text>
<text x="763.56" y="645.10" font-size="10.5" fill="#333" text-anchor="middle" textLength="5.2" lengthAdjust="spacingAndGlyphs" >4</text>
<text x="779.66" y="645.10" font-size="10.5" fill="#333" text-anchor="middle" textLength="5.2" lengthAdjust="spacingAndGlyphs" >3</text>
<text x="795.76" y="645.10" font-size="10.5" fill="#333" text-anchor="middle" textLength="5.2" lengthAdjust="spacingAndGlyphs" >3</text>
<text x="811.86" y="645.10" font-size="10.5" fill="#333" text-anchor="middle" textLength="5.2" lengthAdjust="spacingAndGlyphs" >4</text>
<text x="827.96" y="645.10" font-size="10.5" fill="#333" text-anchor="middle" textLength="5.2" lengthAdjust="spacingAndGlyphs" >5</text>
<text x="844.06" y="645.10" font-size="10.5" fill="#333" text-anchor="middle" textLength="5.2" lengthAdjust="spacingAndGlyphs" >4</text>
<text x="860.16" y="645.10" font-size="10.5" fill="#333" text-anchor="middle" textLength="5.2" lengthAdjust="spacingAndGlyphs" >4</text>
<text x="876.26" y="645.10" font-size="10.5" fill="#333" text-anchor="middle" textLength="5.2" lengthAdjust="spacingAndGlyphs" >4</text>
<text x="892.36" y="645.10" font-size="10.5" fill="#333" text-anchor="middle" textLength="5.2" lengthAdjust="spacingAndGlyphs" >4</text>
<text x="908.46" y="645.10" font-size="10.5" fill="#333" text-anchor="middle" textLength="5.2" lengthAdjust="spacingAndGlyphs" >4</text>
<text x="924.56" y="645.10" font-size="10.5" fill="#333" text-anchor="middle" textLength="5.2" lengthAdjust="spacingAndGlyphs" >1</text>
<text x="940.66" y="645.10" font-size="10.5" fill="#333" text-anchor="middle" textLength="5.2" lengthAdjust="spacingAndGlyphs" >3</text>
<text x="956.76" y="645.10" font-size="10.5" fill="#333" text-anchor="middle" textLength="5.2" lengthAdjust="spacingAndGlyphs" >3</text>
<text x="972.86" y="645.10" font-size="10.5" fill="#333" text-anchor="middle" textLength="5.2" lengthAdjust="spacingAndGlyphs" >3</text>
<text x="988.96" y="645.10" font-size="10.5" fill="#333" text-anchor="middle" textLength="5.2" lengthAdjust="spacingAndGlyphs" >3</text>
<text x="1005.06" y="645.10" font-size="10.5" fill="#333" text-anchor="middle" textLength="5.2" lengthAdjust="spacingAndGlyphs" >3</text>
<text x="1021.16" y="645.10" font-size="10.5" fill="#333" text-anchor="middle" textLength="5.2" lengthAdjust="spacingAndGlyphs" >2</text>
<text x="71.24" y="661.20" font-size="10.5" fill="#333" text-anchor="middle" textLength="5.2" lengthAdjust="spacingAndGlyphs" >5</text>
<text x="87.34" y="661.20" font-size="10.5" fill="#333" text-anchor="middle" textLength="5.2" lengthAdjust="spacingAndGlyphs" >6</text>
<text x="103.44" y="661.20" font-size="10.5" fill="#333" text-anchor="middle" textLength="5.2" lengthAdjust="spacingAndGlyphs" >5</text>
<text x="119.54" y="661.20" font-size="10.5" fill="#333" text-anchor="middle" textLength="5.2" lengthAdjust="spacingAndGlyphs" >5</text>
<text x="135.64" y="661.20" font-size="10.5" fill="#333" text-anchor="middle" textLength="5.2" lengthAdjust="spacingAndGlyphs" >4</text>
<text x="151.74" y="661.20" font-size="10.5" fill="#333" text-anchor="middle" textLength="5.2" lengthAdjust="spacingAndGlyphs" >3</text>
<text x="167.84" y="661.20" font-size="10.5" fill="#333" text-anchor="middle" textLength="5.2" lengthAdjust="spacingAndGlyphs" >3</text>
<text x="183.94" y="661.20" font-size="10.5" fill="#333" text-anchor="middle" textLength="5.2" lengthAdjust="spacingAndGlyphs" >3</text>
<text x="200.04" y="661.20" font-size="10.5" fill="#333" text-anchor="middle" textLength="5.2" lengthAdjust="spacingAndGlyphs" >3</text>
<text x="216.14" y="661.20" font-size="10.5" fill="#333" text-anchor="middle" textLength="5.2" lengthAdjust="spacingAndGlyphs" >3</text>
<text x="232.24" y="661.20" font-size="10.5" fill="#333" text-anchor="middle" textLength="5.2" lengthAdjust="spacingAndGlyphs" >2</text>
<text x="248.34" y="661.20" font-size="10.5" fill="#333" text-anchor="middle" textLength="5.2" lengthAdjust="spacingAndGlyphs" >2</text>
<text x="264.44" y="661.20" font-size="10.5" fill="#333" text-anchor="middle" textLength="5.2" lengthAdjust="spacingAndGlyphs" >2</text>
<text x="280.54" y="661.20" font-size="10.5" fill="#333" text-anchor="middle" textLength="5.2" lengthAdjust="spacingAndGlyphs" >2</text>
<text x="296.64" y="661.20" font-size="10.5" fill="#333" text-anchor="middle" textLength="5.2" lengthAdjust="spacingAndGlyphs" >2</text>
<text x="312.74" y="661.20" font-size="10.5" fill="#333" text-anchor="middle" textLength="5.2" lengthAdjust="spacingAndGlyphs" >2</text>
<text x="328.84" y="661.20" font-size="10.5" fill="#333" text-anchor="middle" textLength="5.2" lengthAdjust="spacingAndGlyphs" >3</text>
<text x="344.95" y="661.20" font-size="10.5" fill="#333" text-anchor="middle" textLength="5.2" lengthAdjust="spacingAndGlyphs" >3</text>
<text x="361.05" y="661.20" font-size="10.5" fill="#333" text-anchor="middle" textLength="5.2" lengthAdjust="spacingAndGlyphs" >2</text>
<text x="377.15" y="661.20" font-size="10.5" fill="#333" text-anchor="middle" textLength="5.2" lengthAdjust="spacingAndGlyphs" >2</text>
<text x="393.25" y="661.20" font-size="10.5" fill="#333" text-anchor="middle" textLength="5.2" lengthAdjust="spacingAndGlyphs" >2</text>
<text x="409.35" y="661.20" font-size="10.5" fill="#333" text-anchor="middle" textLength="5.2" lengthAdjust="spacingAndGlyphs" >2</text>
<text x="425.45" y="661.20" font-size="10.5" fill="#333" text-anchor="middle" textLength="5.2" lengthAdjust="spacingAndGlyphs" >3</text>
<text x="441.55" y="661.20" font-size="10.5" fill="#333" text-anchor="middle" textLength="5.2" lengthAdjust="spacingAndGlyphs" >3</text>
<text x="457.65" y="661.20" font-size="10.5" fill="#333" text-anchor="middle" textLength="5.2" lengthAdjust="spacingAndGlyphs" >4</text>
<text x="473.75" y="661.20" font-size="10.5" fill="#333" text-anchor="middle" textLength="5.2" lengthAdjust="spacingAndGlyphs" >4</text>
<text x="489.85" y="661.20" font-size="10.5" fill="#333" text-anchor="middle" textLength="5.2" lengthAdjust="spacingAndGlyphs" >4</text>
<text x="505.95" y="661.20" font-size="10.5" fill="#333" text-anchor="middle" textLength="5.2" lengthAdjust="spacingAndGlyphs" >4</text>
<text x="522.05" y="661.20" font-size="10.5" fill="#333" text-anchor="middle" textLength="5.2" lengthAdjust="spacingAndGlyphs" >4</text>
<text x="538.15" y="661.20" font-size="10.5" fill="#333" text-anchor="middle" textLength="5.2" lengthAdjust="spacingAndGlyphs" >4</text>
<text x="554.25" y="661.20" font-size="10.5" fill="#333" text-anchor="middle" textLength="5.2" lengthAdjust="spacingAndGlyphs" >5</text>
<text x="570.35" y="661.20" font-size="10.5" fill="#333" text-anchor="middle" textLength="5.2" lengthAdjust="spacingAndGlyphs" >4</text>
<text x="586.45" y="661.20" font-size="10.5" fill="#333" text-anchor="middle" textLength="5.2" lengthAdjust="spacingAndGlyphs" >4</text>
<text x="602.55" y="661.20" font-size="10.5" fill="#333" text-anchor="middle" textLength="5.2" lengthAdjust="spacingAndGlyphs" >4</text>
<text x="618.65" y="661.20" font-size="10.5" fill="#333" text-anchor="middle" textLength="5.2" lengthAdjust="spacingAndGlyphs" >4</text>
<text x="634.75" y="661.20" font-size="10.5" fill="#333" text-anchor="middle" textLength="5.2" lengthAdjust="spacingAndGlyphs" >4</text>
<text x="650.85" y="661.20" font-size="10.5" fill="#333" text-anchor="middle" textLength="5.2" lengthAdjust="spacingAndGlyphs" >4</text>
<text x="666.95" y="661.20" font-size="10.5" fill="#333" text-anchor="middle" textLength="5.2" lengthAdjust="spacingAndGlyphs" >4</text>
<text x="683.05" y="661.20" font-size="10.5" fill="#333" text-anchor="middle" textLength="5.2" lengthAdjust="spacingAndGlyphs" >4</text>
<text x="699.15" y="661.20" font-size="10.5" fill="#333" text-anchor="middle" textLength="5.2" lengthAdjust="spacingAndGlyphs" >4</text>
<text x="715.25" y="661.20" font-size="10.5" fill="#333" text-anchor="middle" textLength="5.2" lengthAdjust="spacingAndGlyphs" >4</text>
<text x="731.35" y="661.20" font-size="10.5" fill="#333" text-anchor="middle" textLength="5.2" lengthAdjust="spacingAndGlyphs" >4</text>
<text x="747.46" y="661.20" font-size="10.5" fill="#333" text-anchor="middle" textLength="5.2" lengthAdjust="spacingAndGlyphs" >3</text>
<text x="763.56" y="661.20" font-size="10.5" fill="#333" text-anchor="middle" textLength="5.2" lengthAdjust="spacingAndGlyphs" >3</text>
<text x="779.66" y="661.20" font-size="10.5" fill="#333" text-anchor="middle" textLength="5.2" lengthAdjust="spacingAndGlyphs" >3</text>
<text x="795.76" y="661.20" font-size="10.5" fill="#333" text-anchor="middle" textLength="5.2" lengthAdjust="spacingAndGlyphs" >3</text>
<text x="811.86" y="661.20" font-size="10.5" fill="#333" text-anchor="middle" textLength="5.2" lengthAdjust="spacingAndGlyphs" >4</text>
<text x="827.96" y="661.20" font-size="10.5" fill="#333" text-anchor="middle" textLength="5.2" lengthAdjust="spacingAndGlyphs" >4</text>
<text x="844.06" y="661.20" font-size="10.5" fill="#333" text-anchor="middle" textLength="5.2" lengthAdjust="spacingAndGlyphs" >4</text>
<text x="860.16" y="661.20" font-size="10.5" fill="#333" text-anchor="middle" textLength="5.2" lengthAdjust="spacingAndGlyphs" >4</text>
<text x="876.26" y="661.20" font-size="10.5" fill="#333" text-anchor="middle" textLength="5.2" lengthAdjust="spacingAndGlyphs" >3</text>
<text x="892.36" y="661.20" font-size="10.5" fill="#333" text-anchor="middle" textLength="5.2" lengthAdjust="spacingAndGlyphs" >3</text>
<text x="908.46" y="661.20" font-size="10.5" fill="#333" text-anchor="middle" textLength="5.2" lengthAdjust="spacingAndGlyphs" >4</text>
<text x="924.56" y="661.20" font-size="10.5" fill="#333" text-anchor="middle" textLength="5.2" lengthAdjust="spacingAndGlyphs" >4</text>
<text x="940.66" y="661.20" font-size="10.5" fill="#333" text-anchor="middle" textLength="5.2" lengthAdjust="spacingAndGlyphs" >4</text>
<text x="956.76" y="661.20" font-size="10.5" fill="#333" text-anchor="middle" textLength="5.2" lengthAdjust="spacingAndGlyphs" >4</text>
<text x="972.86" y="661.20" font-size="10.5" fill="#333" text-anchor="middle" textLength="5.2" lengthAdjust="spacingAndGlyphs" >4</text>
<text x="988.96" y="661.20" font-size="10.5" fill="#333" text-anchor="middle" textLength="5.2" lengthAdjust="spacingAndGlyphs" >4</text>
<text x="1005.06" y="661.20" font-size="10.5" fill="#333" text-anchor="middle" textLength="5.2" lengthAdjust="spacingAndGlyphs" >4</text>
<text x="1021.16" y="661.20" font-size="10.5" fill="#333" text-anchor="middle" textLength="5.2" lengthAdjust="spacingAndGlyphs" >4</text>
<line x1="60.50" y1="618.00" x2="60.50" y2="665.30" stroke="#111" stroke-width="1.3" />
<line x1="1037.25" y1="618.00" x2="1037.25" y2="665.30" stroke="#111" stroke-width="1.3" />
<text x="1042.00" y="630.00" font-size="10" fill="#111" text-anchor="start" >hoch</text>
<text x="1042.00" y="646.00" font-size="10" fill="#111" text-anchor="start" >mittel</text>
<text x="1042.00" y="661.50" font-size="10" fill="#111" text-anchor="start" >tief</text>
<rect x="60.5" y="665.3" width="976.75" height="77.80000000000007" fill="#b3d5f7"/>
<polygon points="60.50,743.10 60.50,665.96 106.00,665.96 106.00,675.64 122.60,675.64 122.60,685.32 143.80,685.32 143.80,695.00 208.70,695.00 208.70,704.68 257.60,704.68 257.60,714.36 283.10,714.36 283.10,704.68 347.60,704.68 347.60,714.36 378.70,714.36 378.70,704.68 406.00,704.68 406.00,695.00 417.10,695.00 417.10,685.32 422.10,685.32 422.10,675.64 449.00,675.64 449.00,665.96 627.80,665.96 627.80,675.64 654.60,675.64 654.60,685.32 771.40,685.32 771.40,675.64 848.10,675.64 848.10,685.32 889.10,685.32 889.10,675.64 922.90,675.64 922.90,685.32 1007.10,685.32 1007.10,675.64 1037.25,675.64 1037.25,743.10" fill="#999999" stroke="none" stroke-width="0" />
<line x1="60.50" y1="733.72" x2="1037.25" y2="733.72" stroke="#c6c6c6" stroke-width="1" />
<line x1="60.50" y1="724.04" x2="1037.25" y2="724.04" stroke="#c6c6c6" stroke-width="1" />
<line x1="60.50" y1="714.36" x2="1037.25" y2="714.36" stroke="#c6c6c6" stroke-width="1" />
<line x1="60.50" y1="704.68" x2="1037.25" y2="704.68" stroke="#c6c6c6" stroke-width="1" />
<line x1="60.50" y1="695.00" x2="1037.25" y2="695.00" stroke="#c6c6c6" stroke-width="1" />
<line x1="60.50" y1="685.32" x2="1037.25" y2="685.32" stroke="#c6c6c6" stroke-width="1" />
<line x1="60.50" y1="675.64" x2="1037.25" y2="675.64" stroke="#c6c6c6" stroke-width="1" />
<line x1="71.24" y1="665.30" x2="71.24" y2="743.10" stroke="#b0b0b0" stroke-width="1" />
<line x1="103.44" y1="665.30" x2="103.44" y2="743.10" stroke="#b0b0b0" stroke-width="1" />
<line x1="167.84" y1="665.30" x2="167.84" y2="743.10" stroke="#b0b0b0" stroke-width="1" />
<line x1="200.04" y1="665.30" x2="200.04" y2="743.10" stroke="#b0b0b0" stroke-width="1" />
<line x1="232.24" y1="665.30" x2="232.24" y2="743.10" stroke="#b0b0b0" stroke-width="1" />
<line x1="296.64" y1="665.30" x2="296.64" y2="743.10" stroke="#b0b0b0" stroke-width="1" />
<line x1="328.84" y1="665.30" x2="328.84" y2="743.10" stroke="#b0b0b0" stroke-width="1" />
<line x1="361.05" y1="665.30" x2="361.05" y2="743.10" stroke="#b0b0b0" stroke-width="1" />
<line x1="425.45" y1="665.30" x2="425.45" y2="743.10" stroke="#b0b0b0" stroke-width="1" />
<line x1="457.65" y1="665.30" x2="457.65" y2="743.10" stroke="#b0b0b0" stroke-width="1" />
<line x1="489.85" y1="665.30" x2="489.85" y2="743.10" stroke="#b0b0b0" stroke-width="1" />
<line x1="554.25" y1="665.30" x2="554.25" y2="743.10" stroke="#b0b0b0" stroke-width="1" />
<line x1="586.45" y1="665.30" x2="586.45" y2="743.10" stroke="#b0b0b0" stroke-width="1" />
<line x1="618.65" y1="665.30" x2="618.65" y2="743.10" stroke="#b0b0b0" stroke-width="1" />
<line x1="683.05" y1="665.30" x2="683.05" y2="743.10" stroke="#b0b0b0" stroke-width="1" />
<line x1="715.25" y1="665.30" x2="715.25" y2="743.10" stroke="#b0b0b0" stroke-width="1" />
<line x1="747.46" y1="665.30" x2="747.46" y2="743.10" stroke="#b0b0b0" stroke-width="1" />
<line x1="811.86" y1="665.30" x2="811.86" y2="743.10" stroke="#b0b0b0" stroke-width="1" />
<line x1="844.06" y1="665.30" x2="844.06" y2="743.10" stroke="#b0b0b0" stroke-width="1" />
<line x1="876.26" y1="665.30" x2="876.26" y2="743.10" stroke="#b0b0b0" stroke-width="1" />
<line x1="940.66" y1="665.30" x2="940.66" y2="743.10" stroke="#b0b0b0" stroke-width="1" />
<line x1="972.86" y1="665.30" x2="972.86" y2="743.10" stroke="#b0b0b0" stroke-width="1" />
<line x1="1005.06" y1="665.30" x2="1005.06" y2="743.10" stroke="#b0b0b0" stroke-width="1" />
<line x1="135.64" y1="665.30" x2="135.64" y2="743.10" stroke="#222" stroke-width="1.5" />
<line x1="264.44" y1="665.30" x2="264.44" y2="743.10" stroke="#222" stroke-width="1.5" />
<line x1="393.25" y1="665.30" x2="393.25" y2="743.10" stroke="#222" stroke-width="1.5" />
<line x1="522.05" y1="665.30" x2="522.05" y2="743.10" stroke="#222" stroke-width="1.5" />
<line x1="650.85" y1="665.30" x2="650.85" y2="743.10" stroke="#222" stroke-width="1.5" />
<line x1="779.66" y1="665.30" x2="779.66" y2="743.10" stroke="#222" stroke-width="1.5" />
<line x1="908.46" y1="665.30" x2="908.46" y2="743.10" stroke="#222" stroke-width="1.5" />
<polyline points="67.90,675.64 74.60,675.64 74.60,665.96 106.00,665.96 106.00,675.64 122.60,675.64 122.60,685.32 143.80,685.32 143.80,695.00 192.90,695.00 192.90,704.68 240.20,704.68 240.20,714.36 294.30,714.36 294.30,704.68 347.60,704.68 347.60,714.36 401.00,714.36 401.00,704.68 422.60,704.68 422.60,695.00 438.70,695.00 438.70,685.32 476.70,685.32 476.70,675.64 481.40,675.64 481.40,685.32 524.40,685.32 524.40,675.64 616.70,675.64 616.70,685.32 669.50,685.32 669.50,695.00 675.20,695.00 675.20,685.32 755.30,685.32 755.30,695.00 803.40,695.00 803.40,685.32 830.70,685.32 830.70,675.64 836.40,675.64 836.40,685.32 873.40,685.32 873.40,695.00 895.40,695.00 895.40,685.32 916.20,685.32 916.20,695.00 937.40,695.00 937.40,685.32 980.40,685.32 980.40,695.00 1037.25,695.00" fill="none" stroke="#0000ff" stroke-width="1.9" stroke-linejoin="round" stroke-linecap="butt" stroke-linejoin="miter"/>
<rect x="60.5" y="665.3" width="976.75" height="77.80000000000007" fill="none" stroke="#111" stroke-width="1.15"/>
<text x="76.20" y="741.50" font-size="11.5" fill="#0000ff" text-anchor="start" textLength="105" lengthAdjust="spacingAndGlyphs" >- effektive Bewölkung</text>
<text x="56.00" y="748.70" font-size="11" fill="#111" text-anchor="end" textLength="5.0" lengthAdjust="spacingAndGlyphs" >0</text>
<text x="56.00" y="739.02" font-size="11" fill="#111" text-anchor="end" textLength="5.0" lengthAdjust="spacingAndGlyphs" >1</text>
<text x="56.00" y="729.34" font-size="11" fill="#111" text-anchor="end" textLength="5.0" lengthAdjust="spacingAndGlyphs" >2</text>
<text x="56.00" y="719.66" font-size="11" fill="#111" text-anchor="end" textLength="5.0" lengthAdjust="spacingAndGlyphs" >3</text>
<text x="56.00" y="709.98" font-size="11" fill="#111" text-anchor="end" textLength="5.0" lengthAdjust="spacingAndGlyphs" >4</text>
<text x="56.00" y="700.30" font-size="11" fill="#111" text-anchor="end" textLength="5.0" lengthAdjust="spacingAndGlyphs" >5</text>
<text x="56.00" y="690.62" font-size="11" fill="#111" text-anchor="end" textLength="5.0" lengthAdjust="spacingAndGlyphs" >6</text>
<text x="56.00" y="680.94" font-size="11" fill="#111" text-anchor="end" textLength="5.0" lengthAdjust="spacingAndGlyphs" >7</text>
<text x="56.00" y="671.26" font-size="11" fill="#111" text-anchor="end" textLength="5.0" lengthAdjust="spacingAndGlyphs" >8</text>
<text x="71.24" y="755.25" font-size="11" fill="#111" text-anchor="middle" textLength="10.0" lengthAdjust="spacingAndGlyphs" >12</text>
<text x="103.44" y="755.25" font-size="11" fill="#111" text-anchor="middle" textLength="10.0" lengthAdjust="spacingAndGlyphs" >18</text>
<text x="135.64" y="755.25" font-size="11" fill="#111" text-anchor="middle" textLength="5.0" lengthAdjust="spacingAndGlyphs" >0</text>
<text x="167.84" y="755.25" font-size="11" fill="#111" text-anchor="middle" textLength="5.0" lengthAdjust="spacingAndGlyphs" >6</text>
<text x="200.04" y="755.25" font-size="11" fill="#111" text-anchor="middle" textLength="10.0" lengthAdjust="spacingAndGlyphs" >12</text>
<text x="232.24" y="755.25" font-size="11" fill="#111" text-anchor="middle" textLength="10.0" lengthAdjust="spacingAndGlyphs" >18</text>
<text x="264.44" y="755.25" font-size="11" fill="#111" text-anchor="middle" textLength="5.0" lengthAdjust="spacingAndGlyphs" >0</text>
<text x="296.64" y="755.25" font-size="11" fill="#111" text-anchor="middle" textLength="5.0" lengthAdjust="spacingAndGlyphs" >6</text>
<text x="328.84" y="755.25" font-size="11" fill="#111" text-anchor="middle" textLength="10.0" lengthAdjust="spacingAndGlyphs" >12</text>
<text x="361.05" y="755.25" font-size="11" fill="#111" text-anchor="middle" textLength="10.0" lengthAdjust="spacingAndGlyphs" >18</text>
<text x="393.25" y="755.25" font-size="11" fill="#111" text-anchor="middle" textLength="5.0" lengthAdjust="spacingAndGlyphs" >0</text>
<text x="425.45" y="755.25" font-size="11" fill="#111" text-anchor="middle" textLength="5.0" lengthAdjust="spacingAndGlyphs" >6</text>
<text x="457.65" y="755.25" font-size="11" fill="#111" text-anchor="middle" textLength="10.0" lengthAdjust="spacingAndGlyphs" >12</text>
<text x="489.85" y="755.25" font-size="11" fill="#111" text-anchor="middle" textLength="10.0" lengthAdjust="spacingAndGlyphs" >18</text>
<text x="522.05" y="755.25" font-size="11" fill="#111" text-anchor="middle" textLength="5.0" lengthAdjust="spacingAndGlyphs" >0</text>
<text x="554.25" y="755.25" font-size="11" fill="#111" text-anchor="middle" textLength="5.0" lengthAdjust="spacingAndGlyphs" >6</text>
<text x="586.45" y="755.25" font-size="11" fill="#111" text-anchor="middle" textLength="10.0" lengthAdjust="spacingAndGlyphs" >12</text>
<text x="618.65" y="755.25" font-size="11" fill="#111" text-anchor="middle" textLength="10.0" lengthAdjust="spacingAndGlyphs" >18</text>
<text x="650.85" y="755.25" font-size="11" fill="#111" text-anchor="middle" textLength="5.0" lengthAdjust="spacingAndGlyphs" >0</text>
<text x="683.05" y="755.25" font-size="11" fill="#111" text-anchor="middle" textLength="5.0" lengthAdjust="spacingAndGlyphs" >6</text>
<text x="715.25" y="755.25" font-size="11" fill="#111" text-anchor="middle" textLength="10.0" lengthAdjust="spacingAndGlyphs" >12</text>
<text x="747.46" y="755.25" font-size="11" fill="#111" text-anchor="middle" textLength="10.0" lengthAdjust="spacingAndGlyphs" >18</text>
<text x="779.66" y="755.25" font-size="11" fill="#111" text-anchor="middle" textLength="5.0" lengthAdjust="spacingAndGlyphs" >0</text>
<text x="811.86" y="755.25" font-size="11" fill="#111" text-anchor="middle" textLength="5.0" lengthAdjust="spacingAndGlyphs" >6</text>
<text x="844.06" y="755.25" font-size="11" fill="#111" text-anchor="middle" textLength="10.0" lengthAdjust="spacingAndGlyphs" >12</text>
<text x="876.26" y="755.25" font-size="11" fill="#111" text-anchor="middle" textLength="10.0" lengthAdjust="spacingAndGlyphs" >18</text>
<text x="908.46" y="755.25" font-size="11" fill="#111" text-anchor="middle" textLength="5.0" lengthAdjust="spacingAndGlyphs" >0</text>
<text x="940.66" y="755.25" font-size="11" fill="#111" text-anchor="middle" textLength="5.0" lengthAdjust="spacingAndGlyphs" >6</text>
<text x="972.86" y="755.25" font-size="11" fill="#111" text-anchor="middle" textLength="10.0" lengthAdjust="spacingAndGlyphs" >12</text>
<text x="1005.06" y="755.25" font-size="11" fill="#111" text-anchor="middle" textLength="10.0" lengthAdjust="spacingAndGlyphs" >18</text>
<text x="1037.26" y="755.25" font-size="11" fill="#111" text-anchor="middle" textLength="5.0" lengthAdjust="spacingAndGlyphs" >0</text>
<text transform="translate(22.50,106.00) rotate(-90)" font-size="13" fill="#111" text-anchor="middle" textLength="93" lengthAdjust="spacingAndGlyphs">Temperatur (°C)</text>
<text transform="translate(18.10,225.80) rotate(-90)" font-size="13" fill="#111" text-anchor="middle" textLength="73.9" lengthAdjust="spacingAndGlyphs">relative Luft-</text>
<text transform="translate(32.30,225.40) rotate(-90)" font-size="13" fill="#111" text-anchor="middle" textLength="92" lengthAdjust="spacingAndGlyphs">feuchtigkeit (%)</text>
<text transform="translate(22.50,324.40) rotate(-90)" font-size="13" fill="#111" text-anchor="middle" textLength="71" lengthAdjust="spacingAndGlyphs">Wind (km/h)</text>
<text transform="translate(19.50,445.00) rotate(-90)" font-size="13" fill="#111" text-anchor="middle" textLength="75" lengthAdjust="spacingAndGlyphs">Niederschlag</text>
<text transform="translate(33.50,443.75) rotate(-90)" font-size="13" fill="#111" text-anchor="middle" textLength="107.5" lengthAdjust="spacingAndGlyphs">3h-Summen (mm)</text>
<text transform="translate(18.50,562.50) rotate(-90)" font-size="13" fill="#111" text-anchor="middle" textLength="95" lengthAdjust="spacingAndGlyphs">relative Sonnen-</text>
<text transform="translate(32.50,563.00) rotate(-90)" font-size="13" fill="#111" text-anchor="middle" textLength="94" lengthAdjust="spacingAndGlyphs">scheindauer (%)</text>
<text transform="translate(18.50,685.00) rotate(-90)" font-size="13" fill="#111" text-anchor="middle" textLength="95" lengthAdjust="spacingAndGlyphs">Bedeckungsgrad</text>
<text transform="translate(32.50,684.50) rotate(-90)" font-size="13" fill="#111" text-anchor="middle" textLength="41" lengthAdjust="spacingAndGlyphs">(Okta)</text>
<text transform="translate(1077.00,225.60) rotate(-90)" font-size="13" fill="#8b0000" text-anchor="middle" textLength="114" lengthAdjust="spacingAndGlyphs">red. Luftdruck (hPa)</text>
<text transform="translate(1064.20,444.90) rotate(-90)" font-size="13" fill="#111" text-anchor="middle" textLength="109" lengthAdjust="spacingAndGlyphs">Wahrscheinlichkeit</text>
<text transform="translate(1077.00,443.00) rotate(-90)" font-size="13" fill="#111" text-anchor="middle" textLength="110" lengthAdjust="spacingAndGlyphs">vergangene 6h (%)</text>
<text transform="translate(1062.50,565.10) rotate(-90)" font-size="13" fill="#0000ff" text-anchor="middle" textLength="75.4" lengthAdjust="spacingAndGlyphs">Niederschlag</text>
<text transform="translate(1077.00,563.40) rotate(-90)" font-size="13" fill="#0000ff" text-anchor="middle" textLength="92" lengthAdjust="spacingAndGlyphs">summiert (mm)</text>
</svg></body></html>
